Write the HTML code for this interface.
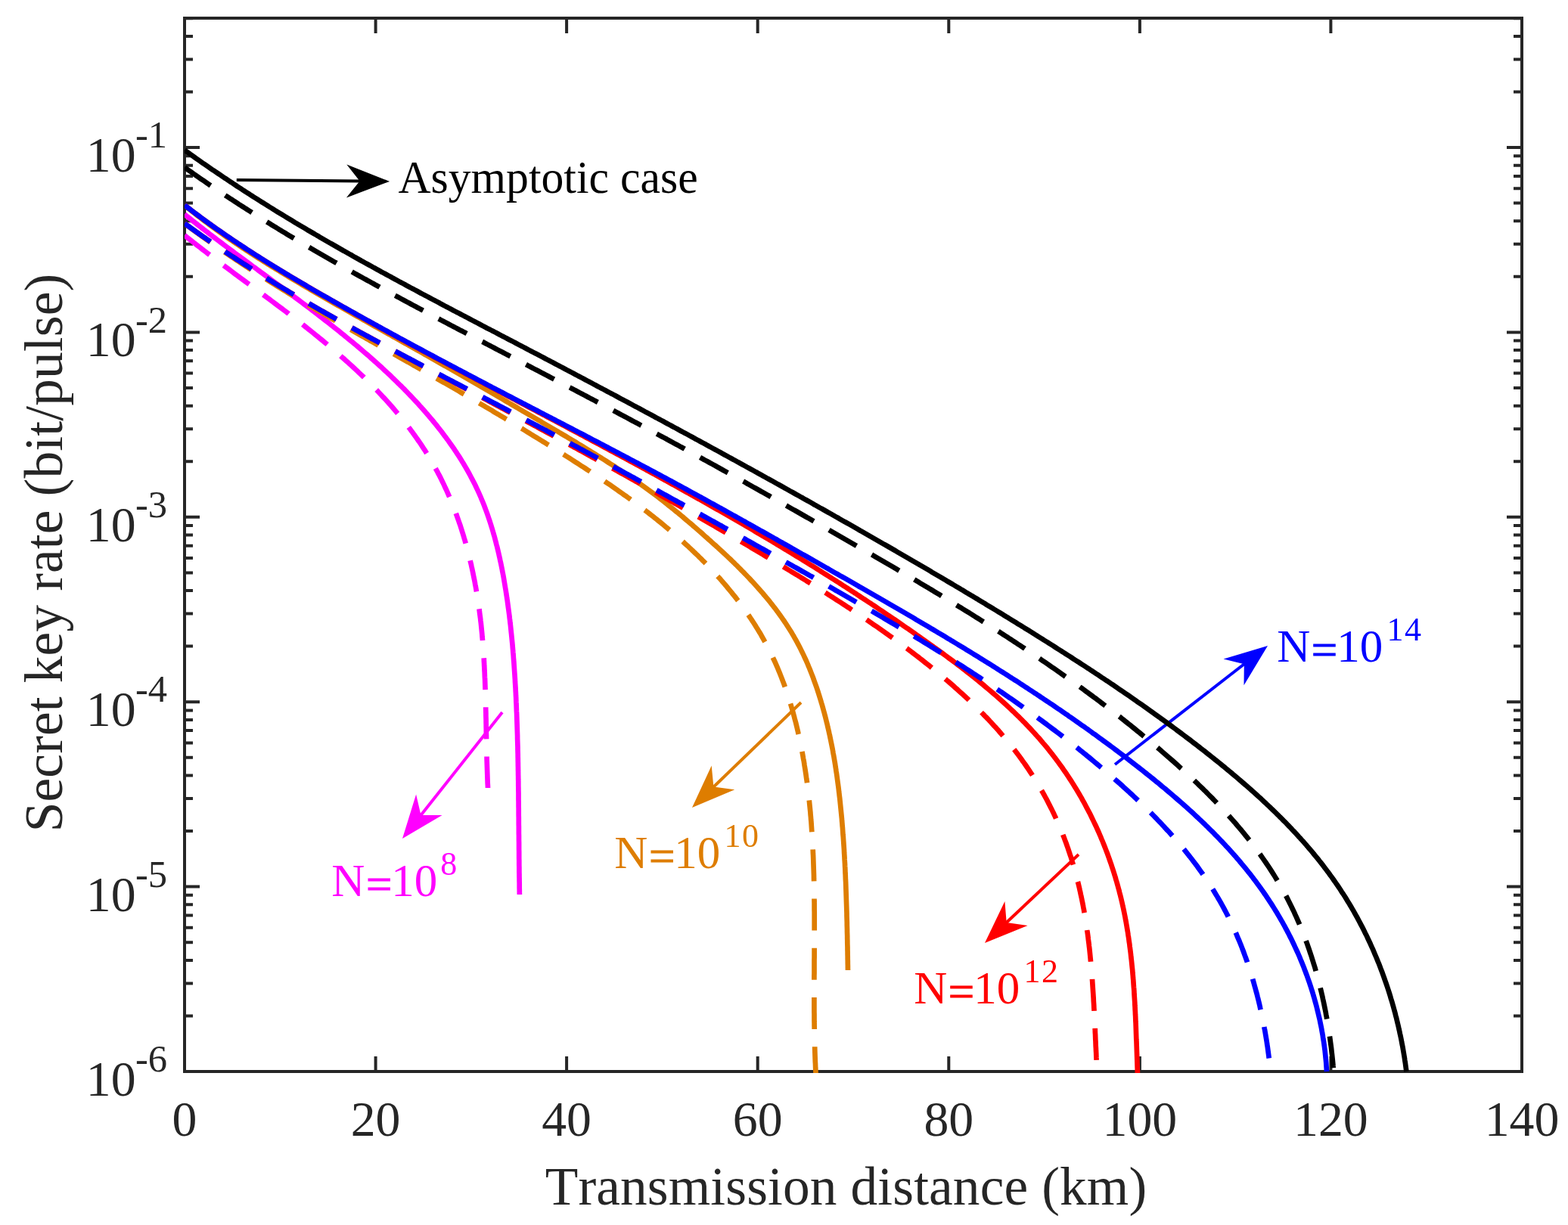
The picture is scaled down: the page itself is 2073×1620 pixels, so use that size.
<!DOCTYPE html>
<html lang="en"><head><meta charset="utf-8"><title>Secret key rate vs transmission distance</title>
<style>html,body{margin:0;padding:0;background:#fff}svg{display:block}text{font-kerning:none;font-variant-ligatures:none}</style></head>
<body>
<svg xmlns="http://www.w3.org/2000/svg" width="2073" height="1620" viewBox="0 0 2073 1620" font-family="'Liberation Serif', 'Times New Roman', Times, serif">
<rect width="2073" height="1620" fill="#fff"/>
<defs><clipPath id="c"><rect x="244" y="24" width="1768" height="1395"/></clipPath></defs>
<path d="M496.6 1417 v-20 M496.6 24 v20 M749.1 1417 v-20 M749.1 24 v20 M1001.7 1417 v-20 M1001.7 24 v20 M1254.3 1417 v-20 M1254.3 24 v20 M1506.9 1417 v-20 M1506.9 24 v20 M1759.4 1417 v-20 M1759.4 24 v20 M244 1343.4 h11 M2012 1343.4 h-11 M244 1300.4 h11 M2012 1300.4 h-11 M244 1269.9 h11 M2012 1269.9 h-11 M244 1246.2 h11 M2012 1246.2 h-11 M244 1226.8 h11 M2012 1226.8 h-11 M244 1210.5 h11 M2012 1210.5 h-11 M244 1196.3 h11 M2012 1196.3 h-11 M244 1183.8 h11 M2012 1183.8 h-11 M244 1172.6 h20 M2012 1172.6 h-20 M244 1099.0 h11 M2012 1099.0 h-11 M244 1056.0 h11 M2012 1056.0 h-11 M244 1025.5 h11 M2012 1025.5 h-11 M244 1001.8 h11 M2012 1001.8 h-11 M244 982.4 h11 M2012 982.4 h-11 M244 966.1 h11 M2012 966.1 h-11 M244 951.9 h11 M2012 951.9 h-11 M244 939.4 h11 M2012 939.4 h-11 M244 928.2 h20 M2012 928.2 h-20 M244 854.6 h11 M2012 854.6 h-11 M244 811.6 h11 M2012 811.6 h-11 M244 781.1 h11 M2012 781.1 h-11 M244 757.4 h11 M2012 757.4 h-11 M244 738.0 h11 M2012 738.0 h-11 M244 721.7 h11 M2012 721.7 h-11 M244 707.5 h11 M2012 707.5 h-11 M244 695.0 h11 M2012 695.0 h-11 M244 683.8 h20 M2012 683.8 h-20 M244 610.2 h11 M2012 610.2 h-11 M244 567.2 h11 M2012 567.2 h-11 M244 536.7 h11 M2012 536.7 h-11 M244 513.0 h11 M2012 513.0 h-11 M244 493.6 h11 M2012 493.6 h-11 M244 477.3 h11 M2012 477.3 h-11 M244 463.1 h11 M2012 463.1 h-11 M244 450.6 h11 M2012 450.6 h-11 M244 439.4 h20 M2012 439.4 h-20 M244 365.8 h11 M2012 365.8 h-11 M244 322.8 h11 M2012 322.8 h-11 M244 292.3 h11 M2012 292.3 h-11 M244 268.6 h11 M2012 268.6 h-11 M244 249.2 h11 M2012 249.2 h-11 M244 232.9 h11 M2012 232.9 h-11 M244 218.7 h11 M2012 218.7 h-11 M244 206.2 h11 M2012 206.2 h-11 M244 195.0 h20 M2012 195.0 h-20 M244 121.4 h11 M2012 121.4 h-11 M244 78.4 h11 M2012 78.4 h-11 M244 47.9 h11 M2012 47.9 h-11 M244 24.2 h11 M2012 24.2 h-11" stroke="#262626" stroke-width="4" fill="none"/>
<rect x="244" y="24" width="1768" height="1393" fill="none" stroke="#262626" stroke-width="4"/>
<line x1="312.8" y1="238.0" x2="477.6" y2="239.5" stroke="#000000" stroke-width="4.0"/><polygon points="515.1,239.9 457.9,261.4 475.6,239.5 458.3,217.4" fill="#000000"/>
<line x1="664.0" y1="942.0" x2="555.3" y2="1079.6" stroke="#ff00ff" stroke-width="4.0"/><polygon points="532.0,1109.0 550.1,1050.6 556.5,1078.0 584.6,1077.9" fill="#ff00ff"/>
<line x1="1059.0" y1="929.0" x2="942.0" y2="1042.0" stroke="#de7d00" stroke-width="4.0"/><polygon points="915.0,1068.0 940.7,1012.6 943.4,1040.6 971.3,1044.2" fill="#de7d00"/>
<line x1="1426.0" y1="1130.0" x2="1329.3" y2="1221.3" stroke="#ff0000" stroke-width="4.0"/><polygon points="1302.0,1247.0 1328.4,1191.9 1330.7,1219.9 1358.6,1223.9" fill="#ff0000"/>
<line x1="1474.0" y1="1011.0" x2="1646.4" y2="877.0" stroke="#0000ff" stroke-width="4.0"/><polygon points="1676.0,854.0 1644.5,906.3 1644.8,878.2 1617.5,871.6" fill="#0000ff"/>
<g clip-path="url(#c)" fill="none" stroke-width="6.7">
<path d="M244.0 283.4L246.3 285.3L248.7 287.2L251.0 289.0L253.4 290.9L255.7 292.8L258.1 294.6L260.5 296.5L262.8 298.3L265.2 300.2L267.5 302.0L269.9 303.8L272.3 305.7L274.7 307.5L277.0 309.3L279.4 311.1L281.8 313.0L284.2 314.8L286.6 316.6L289.0 318.4L291.4 320.2L293.8 322.0L296.1 323.8L298.5 325.6L300.9 327.4L303.3 329.2L305.7 331.0L308.1 332.8L310.5 334.6L313.0 336.4L315.4 338.1L317.8 339.9L320.2 341.7L322.6 343.5L325.0 345.3L327.4 347.0L329.8 348.8L332.2 350.6L334.6 352.4L337.0 354.1L339.5 355.9L341.9 357.7L344.3 359.5L346.7 361.2L349.1 363.0L351.5 364.8L353.9 366.5L356.3 368.3L358.8 370.1L361.2 371.9L363.6 373.6L366.0 375.4L368.4 377.2L370.8 379.0L373.2 380.7L375.6 382.5L378.0 384.3L380.4 386.1L382.8 387.9L385.2 389.7L387.6 391.4L390.0 393.2L392.4 395.0L394.8 396.8L397.2 398.6L399.6 400.4L402.0 402.2L404.4 404.0L406.8 405.8L409.2 407.6L411.5 409.4L413.9 411.2L416.3 413.1L418.7 414.9L421.1 416.7L423.4 418.5L425.8 420.4L428.2 422.2L430.5 424.0L432.9 425.9L435.2 427.7L437.6 429.6L439.9 431.4L442.3 433.3L444.6 435.2L447.0 437.0L449.3 438.9L451.6 440.8L454.0 442.7L456.3 444.6L458.6 446.5L460.9 448.4L463.3 450.3L465.6 452.2L467.9 454.1L470.2 456.0L472.5 457.9L474.8 459.9L477.1 461.8L479.3 463.8L481.6 465.7L483.9 467.7L486.2 469.6L488.4 471.6L490.7 473.6L492.9 475.6L495.2 477.6L497.4 479.6L499.6 481.6L501.9 483.6L504.1 485.6L506.3 487.6L508.5 489.7L510.7 491.7L512.9 493.8L515.1 495.8L517.3 497.9L519.4 500.0L521.6 502.1L523.7 504.2L525.9 506.3L528.0 508.4L530.2 510.5L532.3 512.6L534.4 514.7L536.5 516.9L538.6 519.0L540.7 521.2L542.8 523.4L544.8 525.5L546.9 527.7L548.9 529.9L551.0 532.1L553.0 534.3L555.0 536.6L557.0 538.8L559.0 541.0L561.0 543.3L563.0 545.6L564.9 547.8L566.9 550.1L568.8 552.4L570.8 554.7L572.7 557.0L574.6 559.3L576.5 561.7L578.4 564.0L580.2 566.4L582.1 568.7L583.9 571.1L585.7 573.5L587.5 575.9L589.3 578.3L591.1 580.7L592.9 583.1L594.6 585.6L596.3 588.0L598.1 590.5L599.8 592.9L601.4 595.4L603.1 597.9L604.7 600.4L606.4 602.9L608.0 605.4L609.6 607.9L611.1 610.5L612.7 613.0L614.2 615.6L615.7 618.2L617.2 620.7L618.7 623.3L620.1 625.9L621.5 628.5L622.9 631.2L624.3 633.8L625.7 636.5L627.0 639.1L628.4 641.8L629.6 644.4L630.9 647.1L632.2 649.8L633.4 652.5L634.6 655.3L635.8 658.0L636.9 660.7L638.1 663.5L639.2 666.2L640.3 669.0L641.3 671.8L642.4 674.6L643.4 677.4L644.4 680.2L645.4 683.0L646.3 685.8L647.3 688.7L648.2 691.5L649.1 694.3L650.0 697.2L650.9 700.1L651.7 702.9L652.5 705.8L653.4 708.7L654.2 711.6L654.9 714.5L655.7 717.4L656.4 720.3L657.2 723.2L657.9 726.1L658.6 729.0L659.3 731.9L659.9 734.9L660.6 737.8L661.2 740.7L661.9 743.7L662.5 746.6L663.1 749.6L663.7 752.5L664.2 755.5L664.8 758.4L665.4 761.4L665.9 764.3L666.4 767.3L666.9 770.3L667.4 773.2L667.9 776.2L668.4 779.2L668.9 782.2L669.3 785.1L669.8 788.1L670.2 791.1L670.7 794.0L671.1 797.0L671.5 800.0L671.9 803.0L672.3 805.9L672.7 808.9L673.1 811.9L673.5 814.9L673.8 817.9L674.2 820.8L674.5 823.8L674.9 826.8L675.2 829.8L675.5 832.8L675.8 835.8L676.1 838.7L676.4 841.7L676.7 844.7L677.0 847.7L677.3 850.7L677.6 853.7L677.8 856.7L678.1 859.7L678.3 862.6L678.6 865.6L678.8 868.6L679.0 871.6L679.3 874.6L679.5 877.6L679.7 880.6L679.9 883.6L680.1 886.6L680.3 889.6L680.5 892.5L680.7 895.5L680.9 898.5L681.0 901.5L681.2 904.5L681.4 907.5L681.6 910.5L681.7 913.5L681.9 916.5L682.0 919.5L682.2 922.5L682.3 925.5L682.4 928.4L682.6 931.4L682.7 934.4L682.8 937.4L682.9 940.4L683.1 943.4L683.2 946.4L683.3 949.4L683.4 952.4L683.5 955.4L683.6 958.4L683.7 961.4L683.8 964.4L683.9 967.3L684.0 970.3L684.1 973.3L684.1 976.3L684.2 979.3L684.3 982.3L684.4 985.3L684.5 988.3L684.5 991.3L684.6 994.3L684.7 997.3L684.7 1000.3L684.8 1003.3L684.8 1006.2L684.9 1009.2L684.9 1012.2L685.0 1015.2L685.0 1018.2L685.1 1021.2L685.1 1024.2L685.2 1027.2L685.2 1030.2L685.3 1033.2L685.3 1036.2L685.3 1039.2L685.4 1042.2L685.4 1045.2L685.5 1048.2L685.5 1051.1L685.5 1054.1L685.5 1057.1L685.6 1060.1L685.6 1063.1L685.6 1066.1L685.7 1069.1L685.7 1072.1L685.7 1075.1L685.7 1078.1L685.8 1081.1L685.8 1084.1L685.8 1087.1L685.8 1090.1L685.9 1093.1L685.9 1096.1L685.9 1099.1L685.9 1102.1L686.0 1105.1L686.0 1108.1L686.0 1111.0L686.1 1114.0L686.1 1117.0L686.1 1120.0L686.1 1123.0L686.2 1126.0L686.2 1129.0L686.2 1132.0L686.2 1135.0L686.3 1138.0L686.3 1141.0L686.3 1144.0L686.4 1147.0L686.4 1150.0L686.4 1153.0L686.5 1156.0L686.5 1159.0L686.6 1162.0L686.6 1165.0L686.7 1168.0L686.7 1171.0L686.7 1174.0L686.8 1177.0L686.8 1180.0L686.9 1183.0" stroke="#ff00ff"/>
<path d="M244.0 311.2L246.4 313.1L248.7 315.0L251.1 316.8L253.4 318.7L255.8 320.6L258.2 322.4L260.5 324.3L262.9 326.1L265.3 327.9L267.6 329.8L270.0 331.6L272.4 333.4L274.8 335.3L277.2 337.1L279.5 338.9L281.9 340.7L284.3 342.5L286.7 344.3L289.1 346.1L291.5 347.9L293.9 349.7L296.3 351.5L298.7 353.3L301.1 355.0L303.5 356.8L305.9 358.6L308.2 360.4L310.6 362.2L313.0 363.9L315.4 365.7L317.8 367.5L320.2 369.2L322.6 371.0L325.0 372.8L327.4 374.6L329.8 376.3L332.2 378.1L334.6 379.9L337.0 381.6L339.4 383.4L341.8 385.2L344.2 387.0L346.6 388.7L349.0 390.5L351.4 392.3L353.8 394.1L356.2 395.8L358.6 397.6L361.0 399.4L363.4 401.2L365.8 403.0L368.1 404.8L370.5 406.5L372.9 408.3L375.3 410.1L377.7 411.9L380.1 413.7L382.4 415.6L384.8 417.4L387.2 419.2L389.5 421.0L391.9 422.8L394.3 424.7L396.6 426.5L399.0 428.3L401.4 430.2L403.7 432.0L406.1 433.9L408.4 435.8L410.8 437.6L413.1 439.5L415.4 441.4L417.8 443.3L420.1 445.2L422.4 447.1L424.8 449.0L427.1 450.9L429.4 452.8L431.7 454.7L434.0 456.7L436.3 458.6L438.6 460.6L440.9 462.5L443.2 464.5L445.5 466.4L447.8 468.4L450.1 470.4L452.3 472.4L454.6 474.4L456.8 476.4L459.1 478.4L461.3 480.5L463.6 482.5L465.8 484.5L468.0 486.6L470.2 488.6L472.4 490.7L474.6 492.8L476.8 494.9L479.0 496.9L481.2 499.0L483.3 501.1L485.5 503.3L487.6 505.4L489.7 507.5L491.9 509.6L494.0 511.8L496.1 514.0L498.2 516.1L500.2 518.3L502.3 520.5L504.4 522.7L506.4 524.9L508.5 527.1L510.5 529.3L512.5 531.5L514.5 533.8L516.5 536.0L518.5 538.3L520.4 540.5L522.4 542.8L524.3 545.1L526.2 547.4L528.1 549.7L530.0 552.0L531.9 554.3L533.8 556.7L535.6 559.0L537.5 561.3L539.3 563.7L541.1 566.1L542.9 568.5L544.7 570.9L546.4 573.3L548.2 575.7L549.9 578.1L551.6 580.5L553.3 583.0L555.0 585.4L556.7 587.9L558.3 590.4L559.9 592.8L561.6 595.3L563.1 597.8L564.7 600.4L566.3 602.9L567.8 605.4L569.3 608.0L570.8 610.5L572.3 613.1L573.8 615.7L575.2 618.3L576.6 620.9L578.1 623.5L579.4 626.1L580.8 628.7L582.2 631.4L583.5 634.0L584.8 636.7L586.1 639.4L587.4 642.1L588.6 644.8L589.9 647.5L591.1 650.2L592.3 652.9L593.5 655.6L594.7 658.3L595.8 661.1L597.0 663.8L598.1 666.6L599.2 669.4L600.3 672.1L601.3 674.9L602.4 677.7L603.4 680.5L604.4 683.3L605.4 686.1L606.4 689.0L607.4 691.8L608.4 694.6L609.3 697.5L610.2 700.3L611.1 703.2L612.0 706.0L612.9 708.9L613.7 711.7L614.6 714.6L615.4 717.5L616.2 720.4L617.0 723.3L617.8 726.2L618.6 729.1L619.3 732.0L620.1 734.9L620.8 737.8L621.5 740.7L622.2 743.7L622.9 746.6L623.5 749.5L624.2 752.5L624.8 755.4L625.4 758.3L626.0 761.3L626.6 764.2L627.2 767.2L627.8 770.2L628.3 773.1L628.9 776.1L629.4 779.0L629.9 782.0L630.4 785.0L630.9 788.0L631.4 790.9L631.8 793.9L632.3 796.9L632.7 799.9L633.1 802.8L633.6 805.8L633.9 808.8L634.3 811.8L634.7 814.8L635.1 817.7L635.4 820.7L635.8 823.7L636.1 826.7L636.4 829.7L636.7 832.7L637.0 835.7L637.3 838.6L637.5 841.6L637.8 844.6L638.1 847.6L638.3 850.6L638.5 853.6L638.8 856.6L639.0 859.6L639.2 862.6L639.4 865.5L639.6 868.5L639.8 871.5L639.9 874.5L640.1 877.5L640.2 880.5L640.4 883.5L640.5 886.5L640.7 889.5L640.8 892.5L640.9 895.4L641.1 898.4L641.2 901.4L641.3 904.4L641.4 907.4L641.5 910.4L641.6 913.4L641.7 916.4L641.8 919.4L641.9 922.4L641.9 925.4L642.0 928.4L642.1 931.4L642.2 934.3L642.2 937.3L642.3 940.3L642.4 943.3L642.4 946.3L642.5 949.3L642.6 952.3L642.6 955.3L642.7 958.3L642.7 961.3L642.8 964.3L642.8 967.3L642.9 970.2L643.0 973.2L643.0 976.2L643.1 979.2L643.1 982.2L643.2 985.2L643.3 988.2L643.3 991.2L643.4 994.2L643.5 997.2L643.6 1000.2L643.6 1003.1L643.7 1006.1L643.8 1009.1L643.9 1012.1L644.0 1015.1L644.1 1018.1L644.2 1021.1L644.3 1024.1L644.4 1027.1L644.5 1030.0L644.6 1033.0L644.7 1036.0L644.9 1039.0L645.0 1042.0" stroke="#ff00ff" stroke-dasharray="42 23.22"/>
<path d="M244.0 271.3L246.3 273.2L248.6 275.1L251.0 277.0L253.3 278.9L255.6 280.8L258.0 282.6L260.3 284.5L262.7 286.3L265.1 288.2L267.5 290.0L269.8 291.8L272.2 293.6L274.6 295.4L277.0 297.2L279.4 299.0L281.8 300.8L284.3 302.5L286.7 304.3L289.1 306.0L291.5 307.8L294.0 309.5L296.4 311.2L298.9 313.0L301.3 314.7L303.8 316.4L306.3 318.1L308.7 319.8L311.2 321.4L313.7 323.1L316.2 324.8L318.7 326.4L321.2 328.1L323.7 329.7L326.2 331.4L328.7 333.0L331.2 334.7L333.7 336.3L336.2 337.9L338.7 339.5L341.2 341.1L343.8 342.7L346.3 344.3L348.8 345.9L351.4 347.5L353.9 349.1L356.5 350.7L359.0 352.3L361.6 353.8L364.1 355.4L366.7 357.0L369.2 358.5L371.8 360.1L374.4 361.6L376.9 363.2L379.5 364.7L382.1 366.3L384.6 367.8L387.2 369.3L389.8 370.9L392.4 372.4L394.9 373.9L397.5 375.4L400.1 377.0L402.7 378.5L405.3 380.0L407.8 381.5L410.4 383.0L413.0 384.5L415.6 386.0L418.2 387.5L420.8 389.0L423.4 390.5L426.0 392.0L428.6 393.5L431.2 395.0L433.8 396.5L436.4 398.0L439.0 399.5L441.6 401.0L444.2 402.5L446.8 404.0L449.4 405.4L452.0 406.9L454.6 408.4L457.2 409.9L459.8 411.4L462.4 412.8L465.0 414.3L467.6 415.8L470.2 417.3L472.8 418.7L475.4 420.2L478.0 421.7L480.7 423.2L483.3 424.6L485.9 426.1L488.5 427.6L491.1 429.0L493.7 430.5L496.3 432.0L498.9 433.4L501.5 434.9L504.2 436.4L506.8 437.8L509.4 439.3L512.0 440.8L514.6 442.2L517.2 443.7L519.8 445.2L522.4 446.6L525.1 448.1L527.7 449.6L530.3 451.0L532.9 452.5L535.5 454.0L538.1 455.4L540.7 456.9L543.3 458.4L545.9 459.8L548.6 461.3L551.2 462.8L553.8 464.2L556.4 465.7L559.0 467.2L561.6 468.7L564.2 470.1L566.8 471.6L569.4 473.1L572.0 474.6L574.6 476.1L577.2 477.5L579.8 479.0L582.4 480.5L585.0 482.0L587.6 483.5L590.2 484.9L592.8 486.4L595.4 487.9L598.0 489.4L600.6 490.9L603.2 492.4L605.8 493.9L608.4 495.4L611.0 496.9L613.6 498.4L616.2 499.9L618.8 501.3L621.4 502.8L624.0 504.3L626.6 505.8L629.2 507.3L631.8 508.8L634.4 510.3L636.9 511.8L639.5 513.4L642.1 514.9L644.7 516.4L647.3 517.9L649.9 519.4L652.5 520.9L655.1 522.4L657.6 523.9L660.2 525.4L662.8 526.9L665.4 528.4L668.0 530.0L670.6 531.5L673.1 533.0L675.7 534.5L678.3 536.0L680.9 537.5L683.5 539.0L686.1 540.6L688.7 542.1L691.2 543.6L693.8 545.1L696.4 546.6L699.0 548.1L701.6 549.7L704.2 551.2L706.7 552.7L709.3 554.2L711.9 555.7L714.5 557.2L717.1 558.8L719.7 560.3L722.3 561.8L724.8 563.3L727.4 564.8L730.0 566.4L732.6 567.9L735.2 569.4L737.8 570.9L740.3 572.5L742.9 574.0L745.5 575.5L748.1 577.0L750.7 578.6L753.2 580.1L755.8 581.7L758.4 583.2L761.0 584.7L763.5 586.3L766.1 587.8L768.7 589.4L771.2 590.9L773.8 592.5L776.3 594.1L778.9 595.6L781.4 597.2L784.0 598.8L786.5 600.4L789.1 602.0L791.6 603.5L794.2 605.1L796.7 606.7L799.2 608.3L801.7 609.9L804.3 611.6L806.8 613.2L809.3 614.8L811.8 616.4L814.3 618.1L816.8 619.7L819.3 621.4L821.8 623.0L824.3 624.7L826.8 626.4L829.2 628.0L831.7 629.7L834.2 631.4L836.6 633.1L839.1 634.8L841.5 636.5L844.0 638.2L846.4 640.0L848.8 641.7L851.3 643.5L853.7 645.2L856.1 647.0L858.5 648.7L860.9 650.5L863.3 652.3L865.7 654.1L868.1 655.9L870.4 657.7L872.8 659.6L875.2 661.4L877.5 663.2L879.9 665.1L882.2 666.9L884.5 668.8L886.9 670.7L889.2 672.5L891.5 674.4L893.8 676.3L896.2 678.2L898.5 680.1L900.8 682.0L903.1 683.9L905.3 685.9L907.6 687.8L909.9 689.7L912.2 691.7L914.5 693.6L916.7 695.6L919.0 697.5L921.3 699.5L923.5 701.5L925.8 703.4L928.1 705.4L930.3 707.4L932.5 709.4L934.8 711.4L937.0 713.4L939.3 715.4L941.5 717.4L943.7 719.4L946.0 721.4L948.2 723.4L950.4 725.5L952.6 727.5L954.8 729.5L957.0 731.6L959.2 733.6L961.4 735.7L963.6 737.8L965.8 739.8L967.9 741.9L970.1 744.0L972.2 746.1L974.4 748.2L976.5 750.3L978.6 752.4L980.7 754.6L982.8 756.7L984.9 758.9L987.0 761.0L989.1 763.2L991.2 765.4L993.2 767.6L995.3 769.8L997.3 772.0L999.3 774.2L1001.3 776.4L1003.3 778.7L1005.3 780.9L1007.3 783.2L1009.2 785.5L1011.1 787.8L1013.1 790.1L1015.0 792.4L1016.9 794.7L1018.7 797.0L1020.6 799.4L1022.4 801.7L1024.3 804.1L1026.1 806.5L1027.9 808.9L1029.6 811.3L1031.4 813.7L1033.1 816.1L1034.8 818.6L1036.5 821.0L1038.2 823.5L1039.8 826.0L1041.4 828.5L1043.0 831.0L1044.6 833.5L1046.2 836.1L1047.7 838.6L1049.2 841.2L1050.7 843.8L1052.2 846.4L1053.6 849.0L1055.0 851.6L1056.4 854.3L1057.8 856.9L1059.1 859.6L1060.4 862.2L1061.7 864.9L1063.0 867.6L1064.2 870.3L1065.5 873.0L1066.7 875.8L1067.9 878.5L1069.0 881.3L1070.2 884.0L1071.3 886.8L1072.4 889.6L1073.5 892.4L1074.6 895.2L1075.6 898.0L1076.6 900.8L1077.6 903.6L1078.6 906.4L1079.6 909.2L1080.6 912.1L1081.5 914.9L1082.4 917.8L1083.3 920.6L1084.2 923.5L1085.1 926.4L1085.9 929.2L1086.8 932.1L1087.6 935.0L1088.4 937.9L1089.2 940.8L1090.0 943.6L1090.7 946.5L1091.5 949.4L1092.2 952.3L1092.9 955.2L1093.7 958.2L1094.3 961.1L1095.0 964.0L1095.7 966.9L1096.3 969.8L1097.0 972.8L1097.6 975.7L1098.2 978.6L1098.8 981.6L1099.4 984.5L1100.0 987.5L1100.6 990.4L1101.1 993.3L1101.6 996.3L1102.2 999.3L1102.7 1002.2L1103.2 1005.2L1103.7 1008.1L1104.2 1011.1L1104.6 1014.1L1105.1 1017.0L1105.5 1020.0L1106.0 1023.0L1106.4 1025.9L1106.8 1028.9L1107.2 1031.9L1107.6 1034.9L1108.0 1037.8L1108.4 1040.8L1108.8 1043.8L1109.1 1046.8L1109.5 1049.8L1109.8 1052.8L1110.2 1055.7L1110.5 1058.7L1110.8 1061.7L1111.1 1064.7L1111.4 1067.7L1111.7 1070.7L1112.0 1073.7L1112.3 1076.7L1112.6 1079.7L1112.9 1082.6L1113.1 1085.6L1113.4 1088.6L1113.6 1091.6L1113.9 1094.6L1114.1 1097.6L1114.3 1100.6L1114.5 1103.6L1114.8 1106.6L1115.0 1109.5L1115.2 1112.5L1115.4 1115.5L1115.6 1118.5L1115.8 1121.5L1116.0 1124.5L1116.1 1127.5L1116.3 1130.5L1116.5 1133.4L1116.6 1136.4L1116.8 1139.4L1117.0 1142.4L1117.1 1145.4L1117.3 1148.4L1117.4 1151.3L1117.5 1154.3L1117.7 1157.3L1117.8 1160.3L1117.9 1163.3L1118.1 1166.3L1118.2 1169.2L1118.3 1172.2L1118.4 1175.2L1118.5 1178.2L1118.6 1181.2L1118.7 1184.2L1118.8 1187.2L1118.9 1190.1L1119.0 1193.1L1119.1 1196.1L1119.2 1199.1L1119.3 1202.1L1119.4 1205.1L1119.5 1208.1L1119.5 1211.0L1119.6 1214.0L1119.7 1217.0L1119.8 1220.0L1119.8 1223.0L1119.9 1226.0L1120.0 1229.0L1120.0 1232.0L1120.1 1235.0L1120.2 1238.0L1120.2 1241.0L1120.3 1244.0L1120.3 1247.0L1120.4 1250.0L1120.5 1253.0L1120.5 1256.0L1120.6 1259.0L1120.6 1262.0L1120.7 1265.0L1120.7 1268.0L1120.8 1271.0L1120.8 1274.0L1120.9 1277.0L1120.9 1280.0L1121.0 1283.0" stroke="#de7d00"/>
<path d="M244.0 295.5L246.4 297.3L248.8 299.1L251.2 300.9L253.6 302.7L256.0 304.5L258.4 306.2L260.9 308.0L263.3 309.8L265.7 311.5L268.1 313.3L270.6 315.0L273.0 316.8L275.5 318.5L277.9 320.3L280.4 322.0L282.8 323.7L285.3 325.4L287.7 327.1L290.2 328.8L292.7 330.5L295.1 332.2L297.6 333.9L300.1 335.6L302.6 337.3L305.0 338.9L307.5 340.6L310.0 342.3L312.5 343.9L315.0 345.6L317.5 347.3L320.0 348.9L322.5 350.5L325.0 352.2L327.5 353.8L330.0 355.5L332.6 357.1L335.1 358.7L337.6 360.3L340.1 361.9L342.6 363.5L345.2 365.1L347.7 366.8L350.2 368.3L352.8 369.9L355.3 371.5L357.9 373.1L360.4 374.7L362.9 376.3L365.5 377.9L368.0 379.4L370.6 381.0L373.2 382.6L375.7 384.1L378.3 385.7L380.8 387.3L383.4 388.8L386.0 390.4L388.5 391.9L391.1 393.5L393.7 395.0L396.2 396.5L398.8 398.1L401.4 399.6L404.0 401.2L406.5 402.7L409.1 404.2L411.7 405.7L414.3 407.3L416.9 408.8L419.5 410.3L422.0 411.8L424.6 413.3L427.2 414.8L429.8 416.4L432.4 417.9L435.0 419.4L437.6 420.9L440.2 422.4L442.8 423.9L445.4 425.4L448.0 426.9L450.6 428.4L453.2 429.9L455.8 431.4L458.4 432.9L461.0 434.3L463.6 435.8L466.2 437.3L468.8 438.8L471.4 440.3L474.0 441.8L476.6 443.3L479.2 444.7L481.8 446.2L484.5 447.7L487.1 449.2L489.7 450.7L492.3 452.1L494.9 453.6L497.5 455.1L500.1 456.6L502.7 458.1L505.3 459.5L507.9 461.0L510.6 462.5L513.2 464.0L515.8 465.4L518.4 466.9L521.0 468.4L523.6 469.9L526.2 471.3L528.8 472.8L531.4 474.3L534.1 475.8L536.7 477.3L539.3 478.7L541.9 480.2L544.5 481.7L547.1 483.2L549.7 484.6L552.3 486.1L554.9 487.6L557.5 489.1L560.1 490.6L562.7 492.1L565.3 493.5L567.9 495.0L570.5 496.5L573.1 498.0L575.7 499.5L578.3 501.0L580.9 502.5L583.5 504.0L586.1 505.5L588.7 506.9L591.3 508.4L593.9 509.9L596.5 511.4L599.1 512.9L601.7 514.4L604.3 515.9L606.9 517.4L609.5 519.0L612.1 520.5L614.6 522.0L617.2 523.5L619.8 525.0L622.4 526.5L625.0 528.0L627.6 529.5L630.1 531.0L632.7 532.6L635.3 534.1L637.9 535.6L640.5 537.1L643.0 538.7L645.6 540.2L648.2 541.7L650.8 543.2L653.3 544.8L655.9 546.3L658.5 547.8L661.0 549.4L663.6 550.9L666.2 552.4L668.7 554.0L671.3 555.5L673.9 557.1L676.4 558.6L679.0 560.2L681.6 561.7L684.1 563.3L686.7 564.8L689.2 566.4L691.8 567.9L694.4 569.5L696.9 571.1L699.5 572.6L702.0 574.2L704.6 575.8L707.1 577.3L709.7 578.9L712.2 580.5L714.8 582.0L717.3 583.6L719.9 585.2L722.4 586.8L725.0 588.4L727.5 589.9L730.0 591.5L732.6 593.1L735.1 594.7L737.7 596.3L740.2 597.9L742.7 599.5L745.3 601.1L747.8 602.7L750.3 604.3L752.9 605.9L755.4 607.5L757.9 609.2L760.5 610.8L763.0 612.4L765.5 614.0L768.0 615.7L770.5 617.3L773.1 618.9L775.6 620.6L778.1 622.2L780.6 623.9L783.1 625.5L785.6 627.2L788.1 628.8L790.6 630.5L793.1 632.2L795.6 633.8L798.1 635.5L800.5 637.2L803.0 638.9L805.5 640.6L808.0 642.3L810.4 644.0L812.9 645.7L815.4 647.4L817.8 649.2L820.3 650.9L822.7 652.6L825.1 654.4L827.6 656.1L830.0 657.9L832.4 659.6L834.9 661.4L837.3 663.2L839.7 665.0L842.1 666.8L844.5 668.6L846.9 670.4L849.3 672.2L851.7 674.0L854.1 675.8L856.5 677.7L858.8 679.5L861.2 681.3L863.6 683.2L865.9 685.1L868.3 686.9L870.6 688.8L872.9 690.7L875.3 692.6L877.6 694.5L879.9 696.5L882.2 698.4L884.5 700.3L886.8 702.3L889.1 704.2L891.4 706.2L893.7 708.2L895.9 710.1L898.2 712.1L900.4 714.1L902.7 716.1L904.9 718.2L907.1 720.2L909.4 722.2L911.6 724.3L913.8 726.4L916.0 728.4L918.1 730.5L920.3 732.6L922.5 734.7L924.6 736.8L926.8 738.9L928.9 741.1L931.0 743.2L933.1 745.3L935.2 747.5L937.3 749.7L939.4 751.9L941.5 754.0L943.5 756.2L945.5 758.5L947.6 760.7L949.6 762.9L951.6 765.1L953.6 767.4L955.6 769.7L957.5 771.9L959.5 774.2L961.4 776.5L963.3 778.8L965.2 781.1L967.1 783.4L969.0 785.8L970.9 788.1L972.7 790.4L974.5 792.8L976.4 795.2L978.2 797.6L979.9 800.0L981.7 802.4L983.5 804.8L985.2 807.2L986.9 809.6L988.6 812.1L990.3 814.5L992.0 817.0L993.6 819.5L995.3 822.0L996.9 824.5L998.5 827.0L1000.0 829.5L1001.6 832.0L1003.1 834.6L1004.7 837.1L1006.2 839.7L1007.6 842.3L1009.1 844.8L1010.5 847.4L1012.0 850.0L1013.4 852.7L1014.8 855.3L1016.1 857.9L1017.5 860.6L1018.8 863.2L1020.1 865.9L1021.4 868.6L1022.6 871.3L1023.9 874.0L1025.1 876.7L1026.3 879.4L1027.5 882.1L1028.6 884.8L1029.8 887.6L1030.9 890.3L1032.0 893.1L1033.1 895.9L1034.2 898.7L1035.2 901.4L1036.3 904.2L1037.3 907.0L1038.3 909.8L1039.3 912.7L1040.2 915.5L1041.2 918.3L1042.1 921.2L1043.0 924.0L1043.9 926.9L1044.8 929.7L1045.7 932.6L1046.5 935.4L1047.4 938.3L1048.2 941.2L1049.0 944.1L1049.8 947.0L1050.5 949.9L1051.3 952.8L1052.1 955.7L1052.8 958.6L1053.5 961.5L1054.2 964.5L1054.9 967.4L1055.5 970.3L1056.2 973.3L1056.8 976.2L1057.5 979.1L1058.1 982.1L1058.7 985.0L1059.3 988.0L1059.9 990.9L1060.4 993.9L1061.0 996.9L1061.5 999.8L1062.0 1002.8L1062.6 1005.8L1063.1 1008.7L1063.5 1011.7L1064.0 1014.7L1064.5 1017.7L1064.9 1020.6L1065.4 1023.6L1065.8 1026.6L1066.2 1029.6L1066.7 1032.6L1067.1 1035.6L1067.4 1038.5L1067.8 1041.5L1068.2 1044.5L1068.6 1047.5L1068.9 1050.5L1069.2 1053.5L1069.6 1056.5L1069.9 1059.4L1070.2 1062.4L1070.5 1065.4L1070.8 1068.4L1071.1 1071.4L1071.4 1074.4L1071.6 1077.4L1071.9 1080.4L1072.1 1083.4L1072.4 1086.3L1072.6 1089.3L1072.8 1092.3L1073.0 1095.3L1073.2 1098.3L1073.4 1101.3L1073.6 1104.3L1073.8 1107.3L1074.0 1110.3L1074.2 1113.3L1074.3 1116.3L1074.5 1119.3L1074.6 1122.3L1074.8 1125.3L1074.9 1128.3L1075.1 1131.3L1075.2 1134.2L1075.3 1137.2L1075.4 1140.2L1075.5 1143.2L1075.6 1146.2L1075.7 1149.2L1075.8 1152.2L1075.9 1155.2L1076.0 1158.2L1076.0 1161.2L1076.1 1164.2L1076.2 1167.2L1076.2 1170.2L1076.3 1173.2L1076.3 1176.2L1076.4 1179.2L1076.4 1182.2L1076.5 1185.2L1076.5 1188.2L1076.5 1191.2L1076.6 1194.2L1076.6 1197.2L1076.6 1200.2L1076.6 1203.2L1076.7 1206.2L1076.7 1209.2L1076.7 1212.2L1076.7 1215.2L1076.7 1218.2L1076.7 1221.2L1076.7 1224.2L1076.7 1227.2L1076.7 1230.2L1076.7 1233.2L1076.7 1236.2L1076.7 1239.2L1076.7 1242.2L1076.7 1245.2L1076.6 1248.2L1076.6 1251.2L1076.6 1254.2L1076.6 1257.2L1076.6 1260.2L1076.6 1263.2L1076.6 1266.2L1076.5 1269.2L1076.5 1272.2L1076.5 1275.2L1076.5 1278.2L1076.5 1281.2L1076.5 1284.2L1076.5 1287.2L1076.4 1290.2L1076.4 1293.2L1076.4 1296.2L1076.4 1299.2L1076.4 1302.2L1076.4 1305.2L1076.4 1308.2L1076.4 1311.2L1076.4 1314.2L1076.4 1317.2L1076.4 1320.2L1076.4 1323.2L1076.4 1326.2L1076.4 1329.2L1076.4 1332.2L1076.4 1335.2L1076.4 1338.2L1076.5 1341.2L1076.5 1344.2L1076.5 1347.2L1076.5 1350.2L1076.6 1353.2L1076.6 1356.2L1076.7 1359.2L1076.7 1362.2L1076.8 1365.2L1076.8 1368.2L1076.9 1371.1L1076.9 1374.1L1077.0 1377.1L1077.1 1380.1L1077.2 1383.1L1077.2 1386.1L1077.3 1389.1L1077.4 1392.1L1077.5 1395.1L1077.6 1398.1L1077.7 1401.1L1077.8 1404.1L1078.0 1407.0L1078.1 1410.0L1078.2 1413.0L1078.4 1416.0L1078.5 1419.0" stroke="#de7d00" stroke-dasharray="42 23.22"/>
<path d="M244.0 271.3L246.4 273.2L248.8 275.0L251.3 276.9L253.7 278.8L256.1 280.6L258.6 282.4L261.0 284.3L263.4 286.1L265.9 287.9L268.3 289.7L270.8 291.5L273.2 293.3L275.7 295.0L278.2 296.8L280.6 298.6L283.1 300.3L285.6 302.1L288.0 303.8L290.5 305.5L293.0 307.3L295.5 309.0L297.9 310.7L300.4 312.4L302.9 314.1L305.4 315.8L307.9 317.5L310.4 319.1L312.9 320.8L315.4 322.5L317.9 324.1L320.4 325.8L322.9 327.4L325.4 329.1L327.9 330.7L330.4 332.3L332.9 333.9L335.4 335.5L338.0 337.2L340.5 338.8L343.0 340.4L345.5 342.0L348.1 343.6L350.6 345.1L353.1 346.7L355.6 348.3L358.2 349.9L360.7 351.4L363.3 353.0L365.8 354.6L368.3 356.1L370.9 357.7L373.4 359.2L376.0 360.7L378.5 362.3L381.1 363.8L383.6 365.3L386.2 366.9L388.8 368.4L391.3 369.9L393.9 371.4L396.4 372.9L399.0 374.5L401.6 376.0L404.2 377.5L406.7 379.0L409.3 380.5L411.9 382.0L414.4 383.5L417.0 384.9L419.6 386.4L422.2 387.9L424.8 389.4L427.4 390.9L429.9 392.4L432.5 393.8L435.1 395.3L437.7 396.8L440.3 398.3L442.9 399.7L445.5 401.2L448.1 402.7L450.7 404.1L453.3 405.6L455.9 407.1L458.5 408.6L461.1 410.1L463.7 411.6L466.3 413.0L468.9 414.5L471.5 416.0L474.1 417.5L476.7 418.9L479.4 420.4L482.0 421.9L484.6 423.3L487.2 424.8L489.8 426.2L492.4 427.7L495.1 429.2L497.7 430.6L500.3 432.1L502.9 433.5L505.5 435.0L508.2 436.4L510.8 437.9L513.4 439.3L516.1 440.8L518.7 442.2L521.3 443.6L523.9 445.1L526.6 446.5L529.2 447.9L531.8 449.4L534.5 450.8L537.1 452.2L539.7 453.7L542.4 455.1L545.0 456.5L547.7 458.0L550.3 459.4L552.9 460.8L555.6 462.2L558.2 463.7L560.9 465.1L563.5 466.5L566.1 467.9L568.8 469.3L571.4 470.7L574.1 472.2L576.7 473.6L579.4 475.0L582.0 476.4L584.7 477.8L587.3 479.2L590.0 480.6L592.6 482.0L595.3 483.5L597.9 484.9L600.6 486.3L603.2 487.7L605.9 489.1L608.5 490.5L611.2 491.9L613.8 493.3L616.5 494.7L619.1 496.1L621.8 497.5L624.4 498.9L627.1 500.3L629.7 501.7L632.4 503.1L635.0 504.5L637.7 505.9L640.3 507.3L643.0 508.7L645.7 510.1L648.3 511.5L651.0 512.9L653.6 514.3L656.3 515.7L658.9 517.2L661.6 518.6L664.2 520.0L666.9 521.4L669.5 522.8L672.2 524.2L674.9 525.6L677.5 527.0L680.2 528.4L682.8 529.8L685.5 531.2L688.1 532.6L690.8 534.0L693.4 535.4L696.1 536.8L698.8 538.2L701.4 539.6L704.1 541.0L706.7 542.4L709.4 543.8L712.0 545.2L714.7 546.6L717.3 548.0L720.0 549.4L722.6 550.8L725.3 552.2L727.9 553.6L730.6 555.0L733.2 556.4L735.9 557.8L738.6 559.2L741.2 560.6L743.9 562.0L746.5 563.4L749.2 564.9L751.8 566.3L754.5 567.7L757.1 569.1L759.8 570.5L762.4 571.9L765.1 573.3L767.7 574.7L770.4 576.1L773.0 577.5L775.7 579.0L778.3 580.4L781.0 581.8L783.6 583.2L786.2 584.6L788.9 586.0L791.5 587.4L794.2 588.9L796.8 590.3L799.5 591.7L802.1 593.1L804.8 594.5L807.4 596.0L810.0 597.4L812.7 598.8L815.3 600.2L818.0 601.6L820.6 603.1L823.3 604.5L825.9 605.9L828.5 607.4L831.2 608.8L833.8 610.2L836.4 611.6L839.1 613.1L841.7 614.5L844.3 615.9L847.0 617.4L849.6 618.8L852.3 620.2L854.9 621.7L857.5 623.1L860.1 624.6L862.8 626.0L865.4 627.4L868.0 628.9L870.7 630.3L873.3 631.8L875.9 633.2L878.5 634.7L881.2 636.1L883.8 637.6L886.4 639.0L889.0 640.5L891.7 641.9L894.3 643.4L896.9 644.8L899.5 646.3L902.1 647.7L904.8 649.2L907.4 650.7L910.0 652.1L912.6 653.6L915.2 655.1L917.8 656.5L920.5 658.0L923.1 659.5L925.7 660.9L928.3 662.4L930.9 663.9L933.5 665.4L936.1 666.8L938.7 668.3L941.3 669.8L943.9 671.3L946.5 672.8L949.1 674.2L951.7 675.7L954.3 677.2L956.9 678.7L959.5 680.2L962.1 681.7L964.7 683.2L967.3 684.7L969.9 686.2L972.5 687.7L975.1 689.2L977.7 690.7L980.3 692.2L982.9 693.7L985.4 695.2L988.0 696.7L990.6 698.2L993.2 699.7L995.8 701.2L998.4 702.8L1000.9 704.3L1003.5 705.8L1006.1 707.3L1008.7 708.9L1011.2 710.4L1013.8 711.9L1016.4 713.4L1019.0 715.0L1021.5 716.5L1024.1 718.0L1026.7 719.6L1029.2 721.1L1031.8 722.7L1034.3 724.2L1036.9 725.8L1039.5 727.3L1042.0 728.9L1044.6 730.4L1047.1 732.0L1049.7 733.5L1052.2 735.1L1054.8 736.7L1057.4 738.2L1059.9 739.8L1062.4 741.4L1065.0 742.9L1067.5 744.5L1070.1 746.1L1072.6 747.7L1075.2 749.2L1077.7 750.8L1080.2 752.4L1082.8 754.0L1085.3 755.6L1087.8 757.2L1090.4 758.8L1092.9 760.4L1095.4 762.0L1098.0 763.6L1100.5 765.2L1103.0 766.8L1105.5 768.4L1108.1 770.0L1110.6 771.6L1113.1 773.2L1115.6 774.9L1118.2 776.5L1120.7 778.1L1123.2 779.7L1125.7 781.4L1128.2 783.0L1130.7 784.6L1133.2 786.3L1135.7 787.9L1138.2 789.6L1140.7 791.2L1143.3 792.9L1145.8 794.5L1148.3 796.2L1150.8 797.8L1153.3 799.5L1155.8 801.1L1158.2 802.8L1160.7 804.5L1163.2 806.2L1165.7 807.8L1168.2 809.5L1170.7 811.2L1173.2 812.9L1175.7 814.6L1178.2 816.2L1180.7 817.9L1183.1 819.6L1185.6 821.3L1188.1 823.0L1190.6 824.7L1193.0 826.4L1195.5 828.2L1198.0 829.9L1200.5 831.6L1202.9 833.3L1205.4 835.0L1207.9 836.7L1210.3 838.5L1212.8 840.2L1215.3 841.9L1217.7 843.7L1220.2 845.4L1222.7 847.2L1225.1 848.9L1227.6 850.7L1230.0 852.4L1232.5 854.2L1234.9 855.9L1237.4 857.7L1239.8 859.5L1242.3 861.3L1244.7 863.0L1247.1 864.8L1249.6 866.6L1252.0 868.4L1254.4 870.2L1256.9 872.0L1259.3 873.8L1261.7 875.6L1264.1 877.4L1266.5 879.3L1268.9 881.1L1271.3 882.9L1273.7 884.8L1276.1 886.6L1278.5 888.5L1280.8 890.3L1283.2 892.2L1285.6 894.1L1287.9 895.9L1290.3 897.8L1292.6 899.7L1294.9 901.6L1297.3 903.5L1299.6 905.4L1301.9 907.4L1304.2 909.3L1306.5 911.2L1308.8 913.2L1311.1 915.1L1313.4 917.1L1315.6 919.0L1317.9 921.0L1320.1 923.0L1322.4 925.0L1324.6 927.0L1326.8 929.0L1329.0 931.0L1331.2 933.0L1333.4 935.1L1335.6 937.1L1337.8 939.2L1340.0 941.2L1342.1 943.3L1344.2 945.4L1346.4 947.5L1348.5 949.6L1350.6 951.7L1352.7 953.8L1354.8 955.9L1356.9 958.1L1358.9 960.2L1361.0 962.4L1363.0 964.6L1365.0 966.8L1367.1 969.0L1369.1 971.2L1371.0 973.4L1373.0 975.6L1375.0 977.8L1376.9 980.1L1378.8 982.4L1380.8 984.6L1382.7 986.9L1384.6 989.2L1386.4 991.5L1388.3 993.9L1390.1 996.2L1392.0 998.5L1393.8 1000.9L1395.6 1003.3L1397.4 1005.7L1399.2 1008.1L1400.9 1010.5L1402.7 1012.9L1404.4 1015.3L1406.1 1017.8L1407.8 1020.2L1409.5 1022.7L1411.1 1025.2L1412.8 1027.6L1414.4 1030.1L1416.1 1032.7L1417.7 1035.2L1419.3 1037.7L1420.8 1040.2L1422.4 1042.8L1423.9 1045.3L1425.5 1047.9L1427.0 1050.5L1428.5 1053.1L1430.0 1055.7L1431.4 1058.3L1432.9 1060.9L1434.3 1063.5L1435.7 1066.2L1437.1 1068.8L1438.5 1071.5L1439.9 1074.1L1441.3 1076.8L1442.6 1079.5L1443.9 1082.2L1445.2 1084.9L1446.5 1087.6L1447.8 1090.3L1449.1 1093.0L1450.3 1095.7L1451.6 1098.5L1452.8 1101.2L1454.0 1104.0L1455.2 1106.7L1456.3 1109.5L1457.5 1112.3L1458.6 1115.0L1459.7 1117.8L1460.8 1120.6L1461.9 1123.4L1463.0 1126.2L1464.1 1129.0L1465.1 1131.8L1466.1 1134.7L1467.1 1137.5L1468.1 1140.3L1469.1 1143.2L1470.0 1146.0L1471.0 1148.9L1471.9 1151.7L1472.8 1154.6L1473.7 1157.5L1474.6 1160.3L1475.4 1163.2L1476.3 1166.1L1477.1 1169.0L1477.9 1171.9L1478.7 1174.8L1479.5 1177.7L1480.2 1180.6L1481.0 1183.5L1481.7 1186.4L1482.4 1189.3L1483.1 1192.3L1483.8 1195.2L1484.4 1198.1L1485.1 1201.1L1485.7 1204.0L1486.3 1206.9L1486.9 1209.9L1487.5 1212.8L1488.0 1215.8L1488.6 1218.7L1489.1 1221.7L1489.6 1224.6L1490.1 1227.6L1490.6 1230.6L1491.1 1233.5L1491.5 1236.5L1492.0 1239.5L1492.4 1242.4L1492.8 1245.4L1493.3 1248.4L1493.6 1251.4L1494.0 1254.3L1494.4 1257.3L1494.8 1260.3L1495.1 1263.3L1495.4 1266.3L1495.8 1269.3L1496.1 1272.3L1496.4 1275.3L1496.7 1278.3L1497.0 1281.2L1497.3 1284.2L1497.5 1287.2L1497.8 1290.2L1498.0 1293.2L1498.3 1296.2L1498.5 1299.2L1498.7 1302.2L1498.9 1305.2L1499.2 1308.3L1499.4 1311.3L1499.5 1314.3L1499.7 1317.3L1499.9 1320.3L1500.1 1323.3L1500.3 1326.3L1500.4 1329.3L1500.6 1332.3L1500.7 1335.3L1500.9 1338.3L1501.0 1341.3L1501.2 1344.3L1501.3 1347.3L1501.4 1350.3L1501.6 1353.3L1501.7 1356.3L1501.8 1359.3L1501.9 1362.3L1502.0 1365.3L1502.1 1368.3L1502.2 1371.3L1502.3 1374.3L1502.5 1377.3L1502.6 1380.3L1502.7 1383.3L1502.8 1386.3L1502.9 1389.2L1503.0 1392.2L1503.1 1395.2L1503.2 1398.2L1503.3 1401.2L1503.4 1404.1L1503.5 1407.1L1503.6 1410.1L1503.7 1413.1L1503.8 1416.0L1503.9 1419.0" stroke="#ff0000"/>
<path d="M244.0 295.5L246.4 297.3L248.9 299.0L251.3 300.8L253.8 302.6L256.2 304.3L258.7 306.1L261.1 307.8L263.6 309.5L266.1 311.3L268.5 313.0L271.0 314.7L273.5 316.4L275.9 318.1L278.4 319.8L280.9 321.5L283.4 323.2L285.9 324.9L288.4 326.6L290.8 328.3L293.3 330.0L295.8 331.6L298.3 333.3L300.8 335.0L303.3 336.6L305.8 338.3L308.4 339.9L310.9 341.6L313.4 343.2L315.9 344.8L318.4 346.5L320.9 348.1L323.5 349.7L326.0 351.3L328.5 353.0L331.1 354.6L333.6 356.2L336.1 357.8L338.7 359.4L341.2 361.0L343.7 362.5L346.3 364.1L348.8 365.7L351.4 367.3L353.9 368.9L356.5 370.4L359.0 372.0L361.6 373.6L364.2 375.1L366.7 376.7L369.3 378.2L371.9 379.8L374.4 381.3L377.0 382.9L379.6 384.4L382.1 385.9L384.7 387.5L387.3 389.0L389.9 390.5L392.5 392.0L395.0 393.6L397.6 395.1L400.2 396.6L402.8 398.1L405.4 399.6L408.0 401.1L410.6 402.6L413.2 404.1L415.8 405.6L418.4 407.1L421.0 408.6L423.6 410.1L426.2 411.5L428.8 413.0L431.4 414.5L434.0 416.0L436.6 417.4L439.2 418.9L441.8 420.4L444.4 421.8L447.0 423.3L449.6 424.8L452.3 426.2L454.9 427.7L457.5 429.1L460.1 430.6L462.7 432.0L465.4 433.5L468.0 434.9L470.6 436.4L473.2 437.8L475.8 439.2L478.5 440.7L481.1 442.1L483.7 443.5L486.4 445.0L489.0 446.4L491.6 447.8L494.3 449.2L496.9 450.7L499.5 452.1L502.2 453.5L504.8 454.9L507.4 456.3L510.1 457.8L512.7 459.2L515.4 460.6L518.0 462.0L520.6 463.5L523.3 464.9L525.9 466.3L528.6 467.7L531.2 469.2L533.8 470.6L536.5 472.0L539.1 473.4L541.8 474.8L544.4 476.2L547.1 477.6L549.7 479.1L552.4 480.5L555.0 481.9L557.7 483.3L560.3 484.7L563.0 486.1L565.6 487.5L568.3 488.9L570.9 490.3L573.6 491.7L576.2 493.2L578.9 494.6L581.5 496.0L584.2 497.4L586.8 498.8L589.5 500.2L592.1 501.6L594.8 503.0L597.4 504.4L600.1 505.8L602.7 507.2L605.4 508.6L608.0 510.1L610.7 511.5L613.3 512.9L616.0 514.3L618.6 515.7L621.3 517.1L623.9 518.5L626.6 519.9L629.2 521.3L631.9 522.7L634.5 524.2L637.2 525.6L639.8 527.0L642.4 528.4L645.1 529.8L647.7 531.2L650.4 532.6L653.0 534.1L655.7 535.5L658.3 536.9L661.0 538.3L663.6 539.7L666.3 541.1L668.9 542.6L671.6 544.0L674.2 545.4L676.8 546.8L679.5 548.2L682.1 549.7L684.8 551.1L687.4 552.5L690.1 553.9L692.7 555.4L695.3 556.8L698.0 558.2L700.6 559.6L703.3 561.1L705.9 562.5L708.6 563.9L711.2 565.3L713.8 566.8L716.5 568.2L719.1 569.6L721.7 571.1L724.4 572.5L727.0 573.9L729.7 575.4L732.3 576.8L734.9 578.2L737.6 579.7L740.2 581.1L742.8 582.5L745.5 584.0L748.1 585.4L750.7 586.8L753.4 588.3L756.0 589.7L758.6 591.2L761.3 592.6L763.9 594.0L766.5 595.5L769.2 596.9L771.8 598.4L774.4 599.8L777.1 601.3L779.7 602.7L782.3 604.2L784.9 605.6L787.6 607.1L790.2 608.5L792.8 609.9L795.5 611.4L798.1 612.9L800.7 614.3L803.3 615.8L806.0 617.2L808.6 618.7L811.2 620.1L813.8 621.6L816.5 623.0L819.1 624.5L821.7 626.0L824.3 627.4L826.9 628.9L829.6 630.3L832.2 631.8L834.8 633.3L837.4 634.7L840.0 636.2L842.6 637.6L845.3 639.1L847.9 640.6L850.5 642.1L853.1 643.5L855.7 645.0L858.3 646.5L861.0 647.9L863.6 649.4L866.2 650.9L868.8 652.4L871.4 653.8L874.0 655.3L876.6 656.8L879.2 658.3L881.8 659.7L884.4 661.2L887.1 662.7L889.7 664.2L892.3 665.7L894.9 667.1L897.5 668.6L900.1 670.1L902.7 671.6L905.3 673.1L907.9 674.6L910.5 676.1L913.1 677.6L915.7 679.0L918.3 680.5L920.9 682.0L923.5 683.5L926.1 685.0L928.7 686.5L931.3 688.0L933.9 689.5L936.5 691.0L939.1 692.5L941.7 694.0L944.2 695.5L946.8 697.0L949.4 698.5L952.0 700.0L954.6 701.5L957.2 703.0L959.8 704.6L962.4 706.1L965.0 707.6L967.5 709.1L970.1 710.6L972.7 712.1L975.3 713.6L977.9 715.1L980.5 716.7L983.0 718.2L985.6 719.7L988.2 721.2L990.8 722.7L993.4 724.3L995.9 725.8L998.5 727.3L1001.1 728.8L1003.7 730.4L1006.2 731.9L1008.8 733.4L1011.4 735.0L1014.0 736.5L1016.5 738.0L1019.1 739.6L1021.7 741.1L1024.2 742.6L1026.8 744.2L1029.4 745.7L1031.9 747.3L1034.5 748.8L1037.1 750.4L1039.6 751.9L1042.2 753.5L1044.7 755.0L1047.3 756.6L1049.9 758.1L1052.4 759.7L1055.0 761.2L1057.5 762.8L1060.1 764.4L1062.6 765.9L1065.2 767.5L1067.7 769.1L1070.3 770.7L1072.8 772.2L1075.3 773.8L1077.9 775.4L1080.4 777.0L1083.0 778.6L1085.5 780.2L1088.0 781.8L1090.6 783.4L1093.1 785.0L1095.6 786.6L1098.1 788.2L1100.7 789.8L1103.2 791.5L1105.7 793.1L1108.2 794.7L1110.7 796.3L1113.3 798.0L1115.8 799.6L1118.3 801.2L1120.8 802.9L1123.3 804.5L1125.8 806.2L1128.3 807.8L1130.8 809.5L1133.3 811.2L1135.8 812.8L1138.3 814.5L1140.8 816.2L1143.2 817.9L1145.7 819.6L1148.2 821.3L1150.7 823.0L1153.2 824.7L1155.6 826.4L1158.1 828.1L1160.6 829.8L1163.0 831.5L1165.5 833.3L1168.0 835.0L1170.4 836.7L1172.9 838.5L1175.3 840.2L1177.8 842.0L1180.2 843.7L1182.6 845.5L1185.1 847.3L1187.5 849.1L1190.0 850.8L1192.4 852.6L1194.8 854.4L1197.2 856.2L1199.7 858.0L1202.1 859.8L1204.5 861.7L1206.9 863.5L1209.3 865.3L1211.7 867.2L1214.1 869.0L1216.5 870.9L1218.9 872.7L1221.2 874.6L1223.6 876.5L1226.0 878.3L1228.3 880.2L1230.7 882.1L1233.1 884.0L1235.4 885.9L1237.7 887.8L1240.1 889.7L1242.4 891.7L1244.7 893.6L1247.0 895.6L1249.3 897.5L1251.6 899.5L1253.9 901.4L1256.2 903.4L1258.5 905.4L1260.8 907.4L1263.0 909.4L1265.3 911.4L1267.5 913.4L1269.7 915.4L1272.0 917.4L1274.2 919.5L1276.4 921.5L1278.6 923.6L1280.8 925.6L1283.0 927.7L1285.1 929.8L1287.3 931.9L1289.4 934.0L1291.6 936.1L1293.7 938.2L1295.8 940.3L1297.9 942.5L1300.0 944.6L1302.1 946.8L1304.2 948.9L1306.3 951.1L1308.3 953.3L1310.4 955.5L1312.4 957.7L1314.4 959.9L1316.4 962.1L1318.4 964.3L1320.4 966.5L1322.3 968.8L1324.3 971.1L1326.2 973.3L1328.2 975.6L1330.1 977.9L1332.0 980.2L1333.9 982.5L1335.7 984.8L1337.6 987.1L1339.4 989.5L1341.3 991.8L1343.1 994.2L1344.9 996.6L1346.7 998.9L1348.4 1001.3L1350.2 1003.7L1351.9 1006.2L1353.7 1008.6L1355.4 1011.0L1357.1 1013.5L1358.7 1015.9L1360.4 1018.4L1362.0 1020.9L1363.7 1023.4L1365.3 1025.9L1366.9 1028.4L1368.5 1030.9L1370.0 1033.4L1371.6 1036.0L1373.1 1038.5L1374.6 1041.1L1376.1 1043.7L1377.6 1046.2L1379.1 1048.8L1380.5 1051.4L1381.9 1054.0L1383.4 1056.7L1384.8 1059.3L1386.1 1061.9L1387.5 1064.6L1388.8 1067.2L1390.2 1069.9L1391.5 1072.6L1392.8 1075.2L1394.0 1077.9L1395.3 1080.6L1396.5 1083.3L1397.8 1086.1L1399.0 1088.8L1400.2 1091.5L1401.3 1094.3L1402.5 1097.0L1403.6 1099.8L1404.7 1102.5L1405.8 1105.3L1406.9 1108.1L1407.9 1110.9L1409.0 1113.7L1410.0 1116.5L1411.0 1119.3L1412.0 1122.1L1412.9 1124.9L1413.9 1127.8L1414.8 1130.6L1415.8 1133.4L1416.7 1136.3L1417.5 1139.2L1418.4 1142.0L1419.3 1144.9L1420.1 1147.8L1420.9 1150.7L1421.7 1153.5L1422.5 1156.4L1423.3 1159.3L1424.0 1162.2L1424.7 1165.2L1425.5 1168.1L1426.2 1171.0L1426.9 1173.9L1427.5 1176.8L1428.2 1179.8L1428.8 1182.7L1429.5 1185.7L1430.1 1188.6L1430.7 1191.6L1431.3 1194.5L1431.9 1197.5L1432.4 1200.4L1433.0 1203.4L1433.5 1206.4L1434.0 1209.3L1434.5 1212.3L1435.0 1215.3L1435.5 1218.3L1435.9 1221.2L1436.4 1224.2L1436.8 1227.2L1437.2 1230.2L1437.7 1233.2L1438.1 1236.2L1438.5 1239.2L1438.8 1242.2L1439.2 1245.2L1439.6 1248.2L1439.9 1251.2L1440.3 1254.2L1440.6 1257.2L1440.9 1260.2L1441.2 1263.2L1441.5 1266.3L1441.8 1269.3L1442.1 1272.3L1442.4 1275.3L1442.6 1278.3L1442.9 1281.3L1443.1 1284.4L1443.4 1287.4L1443.6 1290.4L1443.9 1293.4L1444.1 1296.4L1444.3 1299.4L1444.5 1302.5L1444.7 1305.5L1444.9 1308.5L1445.1 1311.5L1445.3 1314.5L1445.5 1317.5L1445.7 1320.6L1445.8 1323.6L1446.0 1326.6L1446.2 1329.6L1446.3 1332.6L1446.5 1335.6L1446.6 1338.6L1446.8 1341.6L1446.9 1344.7L1447.1 1347.7L1447.2 1350.7L1447.4 1353.7L1447.5 1356.7L1447.7 1359.7L1447.8 1362.6L1447.9 1365.6L1448.1 1368.6L1448.2 1371.6L1448.3 1374.6L1448.5 1377.6L1448.6 1380.6L1448.7 1383.5L1448.9 1386.5L1449.0 1389.5L1449.2 1392.5L1449.3 1395.4L1449.4 1398.4L1449.6 1401.3L1449.7 1404.3L1449.9 1407.2L1450.0 1410.2L1450.2 1413.1L1450.3 1416.1L1450.5 1419.0" stroke="#ff0000" stroke-dasharray="42 23.22"/>
<path d="M244.0 271.3L246.4 273.2L248.7 275.0L251.1 276.8L253.5 278.6L255.9 280.4L258.3 282.3L260.7 284.0L263.1 285.8L265.5 287.6L268.0 289.4L270.4 291.2L272.8 292.9L275.2 294.7L277.7 296.4L280.1 298.2L282.5 299.9L285.0 301.7L287.4 303.4L289.9 305.1L292.4 306.8L294.8 308.5L297.3 310.2L299.8 311.9L302.2 313.6L304.7 315.3L307.2 317.0L309.7 318.7L312.2 320.3L314.7 322.0L317.2 323.6L319.7 325.3L322.2 326.9L324.7 328.6L327.2 330.2L329.7 331.8L332.2 333.5L334.7 335.1L337.2 336.7L339.8 338.3L342.3 339.9L344.8 341.5L347.4 343.1L349.9 344.7L352.4 346.3L355.0 347.9L357.5 349.5L360.1 351.0L362.6 352.6L365.2 354.2L367.7 355.7L370.3 357.3L372.9 358.9L375.4 360.4L378.0 362.0L380.6 363.5L383.1 365.0L385.7 366.6L388.3 368.1L390.9 369.6L393.4 371.2L396.0 372.7L398.6 374.2L401.2 375.7L403.8 377.2L406.4 378.8L409.0 380.3L411.5 381.8L414.1 383.3L416.7 384.8L419.3 386.3L421.9 387.8L424.5 389.3L427.1 390.8L429.7 392.2L432.3 393.7L434.9 395.2L437.5 396.7L440.2 398.2L442.8 399.7L445.4 401.1L448.0 402.6L450.6 404.1L453.2 405.6L455.8 407.0L458.4 408.5L461.1 410.0L463.7 411.4L466.3 412.9L468.9 414.3L471.5 415.8L474.1 417.3L476.8 418.7L479.4 420.2L482.0 421.6L484.6 423.1L487.3 424.5L489.9 426.0L492.5 427.4L495.1 428.9L497.8 430.3L500.4 431.8L503.0 433.2L505.6 434.7L508.3 436.1L510.9 437.5L513.5 439.0L516.2 440.4L518.8 441.9L521.4 443.3L524.1 444.7L526.7 446.2L529.3 447.6L532.0 449.0L534.6 450.4L537.2 451.9L539.9 453.3L542.5 454.7L545.2 456.2L547.8 457.6L550.4 459.0L553.1 460.4L555.7 461.8L558.4 463.3L561.0 464.7L563.7 466.1L566.3 467.5L568.9 468.9L571.6 470.3L574.2 471.7L576.9 473.2L579.5 474.6L582.2 476.0L584.8 477.4L587.5 478.8L590.1 480.2L592.8 481.6L595.4 483.0L598.1 484.4L600.7 485.8L603.4 487.2L606.0 488.6L608.7 490.0L611.3 491.4L614.0 492.8L616.6 494.2L619.3 495.6L621.9 497.0L624.6 498.4L627.2 499.8L629.9 501.2L632.5 502.6L635.2 504.0L637.9 505.4L640.5 506.8L643.2 508.2L645.8 509.6L648.5 511.0L651.1 512.4L653.8 513.7L656.4 515.1L659.1 516.5L661.8 517.9L664.4 519.3L667.1 520.7L669.7 522.1L672.4 523.5L675.1 524.8L677.7 526.2L680.4 527.6L683.0 529.0L685.7 530.4L688.4 531.8L691.0 533.2L693.7 534.5L696.3 535.9L699.0 537.3L701.7 538.7L704.3 540.1L707.0 541.4L709.6 542.8L712.3 544.2L715.0 545.6L717.6 547.0L720.3 548.4L722.9 549.7L725.6 551.1L728.3 552.5L730.9 553.9L733.6 555.3L736.2 556.7L738.9 558.0L741.6 559.4L744.2 560.8L746.9 562.2L749.5 563.6L752.2 564.9L754.9 566.3L757.5 567.7L760.2 569.1L762.8 570.5L765.5 571.9L768.2 573.3L770.8 574.6L773.5 576.0L776.1 577.4L778.8 578.8L781.4 580.2L784.1 581.6L786.8 583.0L789.4 584.3L792.1 585.7L794.7 587.1L797.4 588.5L800.0 589.9L802.7 591.3L805.3 592.7L808.0 594.1L810.7 595.5L813.3 596.9L816.0 598.3L818.6 599.7L821.3 601.1L823.9 602.5L826.6 603.9L829.2 605.3L831.9 606.7L834.5 608.1L837.2 609.5L839.8 610.9L842.5 612.3L845.1 613.7L847.8 615.1L850.4 616.5L853.1 617.9L855.7 619.3L858.3 620.7L861.0 622.1L863.6 623.5L866.3 625.0L868.9 626.4L871.6 627.8L874.2 629.2L876.8 630.6L879.5 632.0L882.1 633.5L884.8 634.9L887.4 636.3L890.0 637.7L892.7 639.2L895.3 640.6L897.9 642.0L900.6 643.5L903.2 644.9L905.8 646.3L908.5 647.8L911.1 649.2L913.7 650.6L916.4 652.1L919.0 653.5L921.6 654.9L924.3 656.4L926.9 657.8L929.5 659.3L932.2 660.7L934.8 662.2L937.4 663.6L940.0 665.1L942.7 666.5L945.3 668.0L947.9 669.4L950.5 670.9L953.2 672.3L955.8 673.8L958.4 675.2L961.0 676.7L963.6 678.1L966.3 679.6L968.9 681.1L971.5 682.5L974.1 684.0L976.7 685.4L979.4 686.9L982.0 688.4L984.6 689.8L987.2 691.3L989.8 692.8L992.4 694.2L995.1 695.7L997.7 697.2L1000.3 698.6L1002.9 700.1L1005.5 701.6L1008.1 703.0L1010.7 704.5L1013.4 706.0L1016.0 707.5L1018.6 708.9L1021.2 710.4L1023.8 711.9L1026.4 713.3L1029.0 714.8L1031.6 716.3L1034.3 717.8L1036.9 719.3L1039.5 720.7L1042.1 722.2L1044.7 723.7L1047.3 725.2L1049.9 726.6L1052.5 728.1L1055.1 729.6L1057.7 731.1L1060.3 732.6L1062.9 734.0L1065.6 735.5L1068.2 737.0L1070.8 738.5L1073.4 740.0L1076.0 741.5L1078.6 742.9L1081.2 744.4L1083.8 745.9L1086.4 747.4L1089.0 748.9L1091.6 750.4L1094.2 751.8L1096.8 753.3L1099.4 754.8L1102.0 756.3L1104.6 757.8L1107.3 759.3L1109.9 760.8L1112.5 762.3L1115.1 763.7L1117.7 765.2L1120.3 766.7L1122.9 768.2L1125.5 769.7L1128.1 771.2L1130.7 772.7L1133.3 774.2L1135.9 775.7L1138.5 777.1L1141.1 778.6L1143.7 780.1L1146.3 781.6L1148.9 783.1L1151.5 784.6L1154.1 786.1L1156.7 787.6L1159.3 789.1L1161.9 790.6L1164.5 792.1L1167.1 793.6L1169.7 795.1L1172.3 796.6L1174.8 798.1L1177.4 799.6L1180.0 801.1L1182.6 802.6L1185.2 804.1L1187.8 805.6L1190.4 807.1L1193.0 808.7L1195.6 810.2L1198.2 811.7L1200.7 813.2L1203.3 814.7L1205.9 816.2L1208.5 817.7L1211.1 819.3L1213.7 820.8L1216.3 822.3L1218.8 823.8L1221.4 825.4L1224.0 826.9L1226.6 828.4L1229.1 829.9L1231.7 831.5L1234.3 833.0L1236.9 834.5L1239.4 836.1L1242.0 837.6L1244.6 839.1L1247.2 840.7L1249.7 842.2L1252.3 843.8L1254.9 845.3L1257.4 846.9L1260.0 848.4L1262.6 850.0L1265.1 851.5L1267.7 853.1L1270.2 854.6L1272.8 856.2L1275.3 857.7L1277.9 859.3L1280.5 860.9L1283.0 862.4L1285.6 864.0L1288.1 865.6L1290.7 867.2L1293.2 868.7L1295.8 870.3L1298.3 871.9L1300.8 873.5L1303.4 875.0L1305.9 876.6L1308.5 878.2L1311.0 879.8L1313.5 881.4L1316.1 883.0L1318.6 884.6L1321.1 886.2L1323.7 887.8L1326.2 889.4L1328.7 891.0L1331.3 892.6L1333.8 894.2L1336.3 895.9L1338.8 897.5L1341.3 899.1L1343.9 900.7L1346.4 902.3L1348.9 904.0L1351.4 905.6L1353.9 907.2L1356.4 908.9L1358.9 910.5L1361.4 912.2L1363.9 913.8L1366.4 915.5L1368.9 917.1L1371.4 918.8L1373.9 920.4L1376.4 922.1L1378.9 923.7L1381.4 925.4L1383.9 927.1L1386.4 928.7L1388.9 930.4L1391.4 932.1L1393.8 933.8L1396.3 935.5L1398.8 937.2L1401.3 938.8L1403.7 940.5L1406.2 942.2L1408.7 943.9L1411.1 945.6L1413.6 947.4L1416.1 949.1L1418.5 950.8L1421.0 952.5L1423.4 954.2L1425.9 955.9L1428.3 957.7L1430.8 959.4L1433.2 961.1L1435.7 962.9L1438.1 964.6L1440.6 966.4L1443.0 968.1L1445.4 969.9L1447.9 971.6L1450.3 973.4L1452.7 975.2L1455.2 976.9L1457.6 978.7L1460.0 980.5L1462.4 982.3L1464.8 984.0L1467.2 985.8L1469.7 987.6L1472.1 989.4L1474.5 991.2L1476.9 993.0L1479.3 994.8L1481.7 996.7L1484.1 998.5L1486.5 1000.3L1488.9 1002.1L1491.2 1003.9L1493.6 1005.8L1496.0 1007.6L1498.4 1009.5L1500.8 1011.3L1503.1 1013.2L1505.5 1015.0L1507.9 1016.9L1510.2 1018.7L1512.6 1020.6L1515.0 1022.5L1517.3 1024.4L1519.7 1026.2L1522.0 1028.1L1524.4 1030.0L1526.7 1031.9L1529.0 1033.8L1531.4 1035.7L1533.7 1037.6L1536.0 1039.6L1538.3 1041.5L1540.7 1043.4L1543.0 1045.4L1545.3 1047.3L1547.6 1049.2L1549.9 1051.2L1552.2 1053.2L1554.4 1055.1L1556.7 1057.1L1559.0 1059.1L1561.2 1061.0L1563.5 1063.0L1565.7 1065.0L1568.0 1067.0L1570.2 1069.0L1572.5 1071.1L1574.7 1073.1L1576.9 1075.1L1579.1 1077.1L1581.3 1079.2L1583.5 1081.2L1585.7 1083.3L1587.9 1085.4L1590.0 1087.4L1592.2 1089.5L1594.3 1091.6L1596.5 1093.7L1598.6 1095.8L1600.7 1097.9L1602.9 1100.0L1605.0 1102.1L1607.1 1104.3L1609.2 1106.4L1611.2 1108.5L1613.3 1110.7L1615.4 1112.9L1617.4 1115.0L1619.5 1117.2L1621.5 1119.4L1623.5 1121.6L1625.5 1123.8L1627.5 1126.0L1629.5 1128.2L1631.5 1130.5L1633.5 1132.7L1635.4 1135.0L1637.4 1137.2L1639.3 1139.5L1641.2 1141.8L1643.1 1144.1L1645.0 1146.4L1646.9 1148.7L1648.8 1151.0L1650.6 1153.3L1652.5 1155.6L1654.3 1158.0L1656.1 1160.3L1657.9 1162.7L1659.7 1165.1L1661.5 1167.5L1663.3 1169.9L1665.0 1172.3L1666.8 1174.7L1668.5 1177.1L1670.2 1179.5L1671.9 1182.0L1673.6 1184.4L1675.2 1186.9L1676.9 1189.4L1678.5 1191.9L1680.2 1194.4L1681.8 1196.9L1683.4 1199.4L1684.9 1201.9L1686.5 1204.5L1688.1 1207.0L1689.6 1209.6L1691.1 1212.2L1692.6 1214.7L1694.1 1217.3L1695.6 1219.9L1697.0 1222.5L1698.5 1225.2L1699.9 1227.8L1701.3 1230.4L1702.7 1233.1L1704.1 1235.7L1705.4 1238.4L1706.8 1241.1L1708.1 1243.8L1709.4 1246.5L1710.7 1249.2L1711.9 1251.9L1713.2 1254.6L1714.4 1257.3L1715.7 1260.0L1716.9 1262.8L1718.1 1265.5L1719.2 1268.3L1720.4 1271.1L1721.5 1273.8L1722.6 1276.6L1723.8 1279.4L1724.8 1282.2L1725.9 1285.0L1726.9 1287.8L1728.0 1290.6L1729.0 1293.5L1730.0 1296.3L1731.0 1299.1L1731.9 1302.0L1732.9 1304.8L1733.8 1307.7L1734.7 1310.6L1735.6 1313.4L1736.4 1316.3L1737.3 1319.2L1738.1 1322.1L1738.9 1325.0L1739.7 1327.9L1740.5 1330.8L1741.2 1333.7L1741.9 1336.6L1742.6 1339.5L1743.3 1342.5L1744.0 1345.4L1744.7 1348.3L1745.3 1351.3L1745.9 1354.2L1746.5 1357.2L1747.1 1360.1L1747.6 1363.1L1748.1 1366.0L1748.7 1369.0L1749.1 1372.0L1749.6 1375.0L1750.1 1377.9L1750.5 1380.9L1750.9 1383.9L1751.3 1386.9L1751.7 1389.9L1752.0 1392.9L1752.3 1395.9L1752.6 1398.9L1752.9 1401.9L1753.2 1404.9L1753.4 1408.0L1753.6 1411.0L1753.8 1414.0L1754.0 1417.0" stroke="#0000ff"/>
<path d="M244.0 295.5L246.4 297.3L248.9 299.0L251.3 300.8L253.7 302.5L256.2 304.3L258.6 306.0L261.1 307.8L263.5 309.5L266.0 311.2L268.4 312.9L270.9 314.6L273.4 316.4L275.8 318.1L278.3 319.8L280.8 321.5L283.3 323.2L285.7 324.8L288.2 326.5L290.7 328.2L293.2 329.9L295.7 331.5L298.2 333.2L300.7 334.9L303.2 336.5L305.7 338.2L308.2 339.8L310.7 341.4L313.2 343.1L315.7 344.7L318.2 346.3L320.7 348.0L323.2 349.6L325.8 351.2L328.3 352.8L330.8 354.4L333.3 356.0L335.9 357.6L338.4 359.2L341.0 360.8L343.5 362.4L346.0 364.0L348.6 365.6L351.1 367.1L353.7 368.7L356.2 370.3L358.8 371.8L361.3 373.4L363.9 375.0L366.4 376.5L369.0 378.1L371.6 379.6L374.1 381.1L376.7 382.7L379.3 384.2L381.8 385.8L384.4 387.3L387.0 388.8L389.6 390.3L392.1 391.9L394.7 393.4L397.3 394.9L399.9 396.4L402.5 397.9L405.1 399.4L407.7 400.9L410.3 402.4L412.8 403.9L415.4 405.4L418.0 406.9L420.6 408.4L423.2 409.9L425.8 411.4L428.4 412.8L431.0 414.3L433.7 415.8L436.3 417.3L438.9 418.7L441.5 420.2L444.1 421.7L446.7 423.1L449.3 424.6L451.9 426.0L454.6 427.5L457.2 428.9L459.8 430.4L462.4 431.8L465.0 433.3L467.7 434.7L470.3 436.2L472.9 437.6L475.5 439.1L478.2 440.5L480.8 441.9L483.4 443.4L486.1 444.8L488.7 446.2L491.3 447.7L494.0 449.1L496.6 450.5L499.3 451.9L501.9 453.4L504.5 454.8L507.2 456.2L509.8 457.6L512.5 459.0L515.1 460.4L517.7 461.8L520.4 463.3L523.0 464.7L525.7 466.1L528.3 467.5L531.0 468.9L533.6 470.3L536.3 471.7L538.9 473.1L541.6 474.5L544.2 475.9L546.9 477.3L549.5 478.7L552.2 480.1L554.8 481.5L557.5 482.9L560.1 484.3L562.8 485.7L565.4 487.1L568.1 488.5L570.7 489.9L573.4 491.3L576.1 492.7L578.7 494.0L581.4 495.4L584.0 496.8L586.7 498.2L589.3 499.6L592.0 501.0L594.7 502.4L597.3 503.8L600.0 505.2L602.6 506.6L605.3 507.9L607.9 509.3L610.6 510.7L613.3 512.1L615.9 513.5L618.6 514.9L621.2 516.3L623.9 517.7L626.5 519.0L629.2 520.4L631.9 521.8L634.5 523.2L637.2 524.6L639.8 526.0L642.5 527.4L645.1 528.8L647.8 530.2L650.4 531.6L653.1 532.9L655.8 534.3L658.4 535.7L661.1 537.1L663.7 538.5L666.4 539.9L669.0 541.3L671.7 542.7L674.3 544.1L677.0 545.5L679.6 546.9L682.3 548.3L684.9 549.7L687.6 551.1L690.2 552.5L692.9 553.9L695.5 555.3L698.2 556.7L700.8 558.1L703.5 559.5L706.1 560.9L708.8 562.3L711.4 563.7L714.0 565.1L716.7 566.5L719.3 567.9L722.0 569.3L724.6 570.8L727.3 572.2L729.9 573.6L732.6 575.0L735.2 576.4L737.8 577.8L740.5 579.2L743.1 580.6L745.8 582.0L748.4 583.5L751.1 584.9L753.7 586.3L756.3 587.7L759.0 589.1L761.6 590.5L764.3 591.9L766.9 593.4L769.5 594.8L772.2 596.2L774.8 597.6L777.4 599.0L780.1 600.4L782.7 601.9L785.4 603.3L788.0 604.7L790.6 606.1L793.3 607.6L795.9 609.0L798.5 610.4L801.2 611.8L803.8 613.2L806.4 614.7L809.1 616.1L811.7 617.5L814.3 619.0L817.0 620.4L819.6 621.8L822.2 623.2L824.9 624.7L827.5 626.1L830.1 627.5L832.8 629.0L835.4 630.4L838.0 631.8L840.6 633.3L843.3 634.7L845.9 636.1L848.5 637.5L851.2 639.0L853.8 640.4L856.4 641.9L859.0 643.3L861.7 644.7L864.3 646.2L866.9 647.6L869.6 649.0L872.2 650.5L874.8 651.9L877.4 653.4L880.1 654.8L882.7 656.2L885.3 657.7L887.9 659.1L890.6 660.6L893.2 662.0L895.8 663.5L898.4 664.9L901.1 666.3L903.7 667.8L906.3 669.2L908.9 670.7L911.5 672.1L914.2 673.6L916.8 675.0L919.4 676.5L922.0 677.9L924.6 679.4L927.3 680.8L929.9 682.3L932.5 683.7L935.1 685.2L937.8 686.6L940.4 688.1L943.0 689.5L945.6 691.0L948.2 692.4L950.8 693.9L953.5 695.3L956.1 696.8L958.7 698.3L961.3 699.7L963.9 701.2L966.5 702.6L969.2 704.1L971.8 705.5L974.4 707.0L977.0 708.5L979.6 709.9L982.2 711.4L984.9 712.8L987.5 714.3L990.1 715.8L992.7 717.2L995.3 718.7L997.9 720.2L1000.5 721.6L1003.2 723.1L1005.8 724.6L1008.4 726.0L1011.0 727.5L1013.6 729.0L1016.2 730.4L1018.8 731.9L1021.5 733.4L1024.1 734.8L1026.7 736.3L1029.3 737.8L1031.9 739.2L1034.5 740.7L1037.1 742.2L1039.7 743.7L1042.3 745.1L1045.0 746.6L1047.6 748.1L1050.2 749.6L1052.8 751.0L1055.4 752.5L1058.0 754.0L1060.6 755.5L1063.2 756.9L1065.8 758.4L1068.4 759.9L1071.0 761.4L1073.7 762.8L1076.3 764.3L1078.9 765.8L1081.5 767.3L1084.1 768.8L1086.7 770.3L1089.3 771.7L1091.9 773.2L1094.5 774.7L1097.1 776.2L1099.7 777.7L1102.3 779.2L1104.9 780.7L1107.5 782.1L1110.1 783.6L1112.7 785.1L1115.3 786.6L1117.9 788.1L1120.5 789.6L1123.1 791.1L1125.7 792.6L1128.3 794.1L1130.9 795.6L1133.5 797.1L1136.1 798.6L1138.7 800.1L1141.3 801.6L1143.9 803.1L1146.5 804.6L1149.1 806.1L1151.7 807.6L1154.3 809.1L1156.9 810.7L1159.4 812.2L1162.0 813.7L1164.6 815.2L1167.2 816.7L1169.8 818.3L1172.4 819.8L1174.9 821.3L1177.5 822.8L1180.1 824.4L1182.7 825.9L1185.3 827.4L1187.8 829.0L1190.4 830.5L1193.0 832.0L1195.5 833.6L1198.1 835.1L1200.7 836.7L1203.3 838.2L1205.8 839.8L1208.4 841.3L1210.9 842.9L1213.5 844.4L1216.1 846.0L1218.6 847.5L1221.2 849.1L1223.7 850.7L1226.3 852.2L1228.8 853.8L1231.4 855.4L1233.9 857.0L1236.5 858.5L1239.0 860.1L1241.6 861.7L1244.1 863.3L1246.7 864.9L1249.2 866.5L1251.7 868.1L1254.3 869.7L1256.8 871.3L1259.3 872.9L1261.9 874.5L1264.4 876.1L1266.9 877.7L1269.4 879.3L1272.0 880.9L1274.5 882.5L1277.0 884.2L1279.5 885.8L1282.0 887.4L1284.5 889.0L1287.0 890.7L1289.5 892.3L1292.0 894.0L1294.5 895.6L1297.0 897.3L1299.5 898.9L1302.0 900.6L1304.5 902.2L1307.0 903.9L1309.5 905.5L1312.0 907.2L1314.5 908.9L1317.0 910.6L1319.4 912.2L1321.9 913.9L1324.4 915.6L1326.8 917.3L1329.3 919.0L1331.8 920.7L1334.2 922.4L1336.7 924.1L1339.2 925.8L1341.6 927.5L1344.1 929.2L1346.5 931.0L1349.0 932.7L1351.4 934.4L1353.8 936.2L1356.3 937.9L1358.7 939.6L1361.2 941.4L1363.6 943.1L1366.0 944.9L1368.4 946.6L1370.9 948.4L1373.3 950.2L1375.7 951.9L1378.1 953.7L1380.5 955.5L1382.9 957.3L1385.3 959.1L1387.7 960.9L1390.1 962.7L1392.5 964.5L1394.9 966.3L1397.3 968.1L1399.7 969.9L1402.0 971.7L1404.4 973.5L1406.8 975.4L1409.2 977.2L1411.5 979.1L1413.9 980.9L1416.2 982.7L1418.6 984.6L1421.0 986.5L1423.3 988.3L1425.7 990.2L1428.0 992.1L1430.3 993.9L1432.7 995.8L1435.0 997.7L1437.3 999.6L1439.7 1001.5L1442.0 1003.4L1444.3 1005.3L1446.6 1007.2L1448.9 1009.2L1451.2 1011.1L1453.5 1013.0L1455.8 1015.0L1458.1 1016.9L1460.4 1018.9L1462.7 1020.8L1465.0 1022.8L1467.3 1024.7L1469.5 1026.7L1471.8 1028.7L1474.1 1030.7L1476.3 1032.6L1478.6 1034.6L1480.8 1036.6L1483.1 1038.6L1485.3 1040.7L1487.6 1042.7L1489.8 1044.7L1492.0 1046.7L1494.2 1048.8L1496.4 1050.8L1498.6 1052.9L1500.8 1054.9L1503.0 1057.0L1505.2 1059.1L1507.4 1061.1L1509.5 1063.2L1511.7 1065.3L1513.8 1067.4L1516.0 1069.5L1518.1 1071.6L1520.2 1073.7L1522.4 1075.9L1524.5 1078.0L1526.6 1080.2L1528.7 1082.3L1530.7 1084.5L1532.8 1086.6L1534.9 1088.8L1536.9 1091.0L1539.0 1093.2L1541.0 1095.4L1543.0 1097.6L1545.1 1099.8L1547.1 1102.0L1549.0 1104.2L1551.0 1106.5L1553.0 1108.7L1555.0 1111.0L1556.9 1113.2L1558.8 1115.5L1560.8 1117.8L1562.7 1120.1L1564.6 1122.4L1566.5 1124.7L1568.3 1127.0L1570.2 1129.3L1572.0 1131.6L1573.9 1134.0L1575.7 1136.3L1577.5 1138.7L1579.3 1141.1L1581.1 1143.4L1582.9 1145.8L1584.6 1148.2L1586.3 1150.6L1588.1 1153.1L1589.8 1155.5L1591.5 1157.9L1593.2 1160.4L1594.8 1162.8L1596.5 1165.3L1598.1 1167.8L1599.7 1170.3L1601.3 1172.8L1602.9 1175.3L1604.5 1177.8L1606.0 1180.3L1607.6 1182.9L1609.1 1185.4L1610.6 1188.0L1612.1 1190.5L1613.6 1193.1L1615.0 1195.7L1616.5 1198.3L1617.9 1200.9L1619.3 1203.6L1620.7 1206.2L1622.0 1208.8L1623.4 1211.5L1624.7 1214.2L1626.0 1216.8L1627.3 1219.5L1628.6 1222.2L1629.9 1224.9L1631.1 1227.6L1632.4 1230.3L1633.6 1233.1L1634.8 1235.8L1635.9 1238.6L1637.1 1241.3L1638.3 1244.1L1639.4 1246.9L1640.5 1249.6L1641.6 1252.4L1642.7 1255.2L1643.8 1258.0L1644.8 1260.8L1645.8 1263.7L1646.9 1266.5L1647.9 1269.3L1648.9 1272.2L1649.8 1275.0L1650.8 1277.8L1651.7 1280.7L1652.7 1283.6L1653.6 1286.4L1654.5 1289.3L1655.4 1292.2L1656.2 1295.1L1657.1 1298.0L1657.9 1300.9L1658.7 1303.8L1659.5 1306.7L1660.3 1309.6L1661.1 1312.5L1661.9 1315.4L1662.6 1318.3L1663.4 1321.3L1664.1 1324.2L1664.8 1327.1L1665.5 1330.1L1666.1 1333.0L1666.8 1336.0L1667.5 1338.9L1668.1 1341.8L1668.7 1344.8L1669.3 1347.8L1669.9 1350.7L1670.5 1353.7L1671.1 1356.6L1671.6 1359.6L1672.2 1362.6L1672.7 1365.5L1673.2 1368.5L1673.7 1371.5L1674.2 1374.4L1674.7 1377.4L1675.1 1380.4L1675.6 1383.4L1676.0 1386.3L1676.4 1389.3L1676.8 1392.3L1677.2 1395.2L1677.6 1398.2L1678.0 1401.2L1678.4 1404.2L1678.7 1407.1L1679.0 1410.1L1679.4 1413.1L1679.7 1416.0L1680.0 1419.0" stroke="#0000ff" stroke-dasharray="42 23.22"/>
<path d="M244.0 198.5L246.4 200.3L248.9 202.0L251.3 203.8L253.8 205.5L256.2 207.2L258.6 209.0L261.1 210.7L263.6 212.4L266.0 214.2L268.5 215.9L270.9 217.6L273.4 219.3L275.9 221.0L278.3 222.7L280.8 224.4L283.3 226.1L285.8 227.8L288.2 229.4L290.7 231.1L293.2 232.8L295.7 234.5L298.2 236.1L300.7 237.8L303.2 239.5L305.7 241.1L308.2 242.8L310.7 244.4L313.2 246.1L315.7 247.7L318.2 249.3L320.7 251.0L323.2 252.6L325.7 254.2L328.3 255.8L330.8 257.5L333.3 259.1L335.8 260.7L338.3 262.3L340.9 263.9L343.4 265.5L345.9 267.1L348.5 268.7L351.0 270.3L353.6 271.9L356.1 273.5L358.6 275.0L361.2 276.6L363.7 278.2L366.3 279.8L368.8 281.3L371.4 282.9L373.9 284.4L376.5 286.0L379.1 287.6L381.6 289.1L384.2 290.7L386.7 292.2L389.3 293.8L391.9 295.3L394.4 296.8L397.0 298.4L399.6 299.9L402.2 301.4L404.7 302.9L407.3 304.5L409.9 306.0L412.5 307.5L415.1 309.0L417.6 310.5L420.2 312.0L422.8 313.6L425.4 315.1L428.0 316.6L430.6 318.1L433.2 319.6L435.8 321.1L438.4 322.5L441.0 324.0L443.6 325.5L446.2 327.0L448.8 328.5L451.4 330.0L454.0 331.5L456.6 332.9L459.2 334.4L461.8 335.9L464.4 337.3L467.0 338.8L469.6 340.3L472.2 341.7L474.9 343.2L477.5 344.7L480.1 346.1L482.7 347.6L485.3 349.0L488.0 350.5L490.6 351.9L493.2 353.4L495.8 354.8L498.4 356.3L501.1 357.7L503.7 359.2L506.3 360.6L509.0 362.0L511.6 363.5L514.2 364.9L516.9 366.3L519.5 367.8L522.1 369.2L524.8 370.6L527.4 372.1L530.0 373.5L532.7 374.9L535.3 376.3L537.9 377.8L540.6 379.2L543.2 380.6L545.9 382.0L548.5 383.4L551.1 384.8L553.8 386.3L556.4 387.7L559.1 389.1L561.7 390.5L564.4 391.9L567.0 393.3L569.7 394.7L572.3 396.1L575.0 397.5L577.6 398.9L580.3 400.3L582.9 401.8L585.6 403.2L588.2 404.6L590.9 406.0L593.5 407.4L596.2 408.8L598.8 410.2L601.5 411.6L604.1 413.0L606.8 414.3L609.4 415.7L612.1 417.1L614.7 418.5L617.4 419.9L620.0 421.3L622.7 422.7L625.4 424.1L628.0 425.5L630.7 426.9L633.3 428.3L636.0 429.7L638.6 431.1L641.3 432.5L643.9 433.9L646.6 435.2L649.3 436.6L651.9 438.0L654.6 439.4L657.2 440.8L659.9 442.2L662.5 443.6L665.2 445.0L667.9 446.4L670.5 447.8L673.2 449.2L675.8 450.5L678.5 451.9L681.1 453.3L683.8 454.7L686.4 456.1L689.1 457.5L691.8 458.9L694.4 460.3L697.1 461.7L699.7 463.1L702.4 464.5L705.0 465.9L707.7 467.3L710.3 468.6L713.0 470.0L715.6 471.4L718.3 472.8L720.9 474.2L723.6 475.6L726.3 477.0L728.9 478.4L731.6 479.8L734.2 481.2L736.9 482.6L739.5 484.0L742.2 485.4L744.8 486.8L747.5 488.2L750.1 489.6L752.8 491.0L755.4 492.4L758.1 493.8L760.7 495.2L763.4 496.6L766.0 498.0L768.6 499.4L771.3 500.8L773.9 502.2L776.6 503.6L779.2 505.0L781.9 506.4L784.5 507.9L787.2 509.3L789.8 510.7L792.5 512.1L795.1 513.5L797.8 514.9L800.4 516.3L803.0 517.7L805.7 519.1L808.3 520.5L811.0 521.9L813.6 523.3L816.3 524.8L818.9 526.2L821.5 527.6L824.2 529.0L826.8 530.4L829.5 531.8L832.1 533.2L834.8 534.6L837.4 536.1L840.0 537.5L842.7 538.9L845.3 540.3L848.0 541.7L850.6 543.1L853.2 544.6L855.9 546.0L858.5 547.4L861.1 548.8L863.8 550.2L866.4 551.7L869.1 553.1L871.7 554.5L874.3 555.9L877.0 557.3L879.6 558.8L882.2 560.2L884.9 561.6L887.5 563.0L890.1 564.5L892.8 565.9L895.4 567.3L898.0 568.7L900.7 570.2L903.3 571.6L905.9 573.0L908.6 574.4L911.2 575.9L913.8 577.3L916.5 578.7L919.1 580.2L921.7 581.6L924.4 583.0L927.0 584.5L929.6 585.9L932.3 587.3L934.9 588.8L937.5 590.2L940.1 591.6L942.8 593.1L945.4 594.5L948.0 595.9L950.7 597.4L953.3 598.8L955.9 600.3L958.5 601.7L961.2 603.1L963.8 604.6L966.4 606.0L969.0 607.5L971.7 608.9L974.3 610.4L976.9 611.8L979.5 613.2L982.2 614.7L984.8 616.1L987.4 617.6L990.0 619.0L992.7 620.5L995.3 621.9L997.9 623.4L1000.5 624.8L1003.1 626.3L1005.8 627.7L1008.4 629.2L1011.0 630.6L1013.6 632.1L1016.2 633.5L1018.9 635.0L1021.5 636.4L1024.1 637.9L1026.7 639.4L1029.3 640.8L1032.0 642.3L1034.6 643.7L1037.2 645.2L1039.8 646.6L1042.4 648.1L1045.0 649.6L1047.7 651.0L1050.3 652.5L1052.9 654.0L1055.5 655.4L1058.1 656.9L1060.7 658.3L1063.3 659.8L1066.0 661.3L1068.6 662.7L1071.2 664.2L1073.8 665.7L1076.4 667.2L1079.0 668.6L1081.6 670.1L1084.2 671.6L1086.9 673.0L1089.5 674.5L1092.1 676.0L1094.7 677.5L1097.3 678.9L1099.9 680.4L1102.5 681.9L1105.1 683.4L1107.7 684.8L1110.3 686.3L1112.9 687.8L1115.5 689.3L1118.2 690.8L1120.8 692.2L1123.4 693.7L1126.0 695.2L1128.6 696.7L1131.2 698.2L1133.8 699.7L1136.4 701.2L1139.0 702.6L1141.6 704.1L1144.2 705.6L1146.8 707.1L1149.4 708.6L1152.0 710.1L1154.6 711.6L1157.2 713.1L1159.8 714.6L1162.4 716.1L1165.0 717.6L1167.6 719.1L1170.2 720.5L1172.8 722.0L1175.4 723.5L1178.0 725.0L1180.6 726.5L1183.2 728.0L1185.8 729.6L1188.4 731.1L1191.0 732.6L1193.6 734.1L1196.2 735.6L1198.8 737.1L1201.4 738.6L1203.9 740.1L1206.5 741.6L1209.1 743.1L1211.7 744.6L1214.3 746.1L1216.9 747.7L1219.5 749.2L1222.1 750.7L1224.7 752.2L1227.3 753.7L1229.8 755.2L1232.4 756.8L1235.0 758.3L1237.6 759.8L1240.2 761.3L1242.8 762.8L1245.4 764.4L1247.9 765.9L1250.5 767.4L1253.1 769.0L1255.7 770.5L1258.3 772.0L1260.8 773.5L1263.4 775.1L1266.0 776.6L1268.6 778.1L1271.1 779.7L1273.7 781.2L1276.3 782.8L1278.9 784.3L1281.4 785.8L1284.0 787.4L1286.6 788.9L1289.1 790.5L1291.7 792.0L1294.3 793.6L1296.8 795.1L1299.4 796.7L1302.0 798.2L1304.5 799.8L1307.1 801.3L1309.7 802.9L1312.2 804.4L1314.8 806.0L1317.3 807.5L1319.9 809.1L1322.5 810.7L1325.0 812.2L1327.6 813.8L1330.1 815.4L1332.7 816.9L1335.2 818.5L1337.8 820.1L1340.3 821.6L1342.9 823.2L1345.4 824.8L1348.0 826.3L1350.5 827.9L1353.1 829.5L1355.6 831.1L1358.2 832.7L1360.7 834.2L1363.2 835.8L1365.8 837.4L1368.3 839.0L1370.9 840.6L1373.4 842.2L1375.9 843.8L1378.5 845.4L1381.0 847.0L1383.5 848.5L1386.1 850.1L1388.6 851.7L1391.1 853.3L1393.6 854.9L1396.2 856.6L1398.7 858.2L1401.2 859.8L1403.7 861.4L1406.3 863.0L1408.8 864.6L1411.3 866.2L1413.8 867.8L1416.3 869.4L1418.8 871.1L1421.3 872.7L1423.9 874.3L1426.4 875.9L1428.9 877.6L1431.4 879.2L1433.9 880.8L1436.4 882.5L1438.9 884.1L1441.4 885.8L1443.9 887.4L1446.4 889.0L1448.9 890.7L1451.4 892.3L1453.9 894.0L1456.3 895.7L1458.8 897.3L1461.3 899.0L1463.8 900.6L1466.3 902.3L1468.8 904.0L1471.3 905.6L1473.7 907.3L1476.2 909.0L1478.7 910.7L1481.1 912.4L1483.6 914.0L1486.1 915.7L1488.6 917.4L1491.0 919.1L1493.5 920.8L1495.9 922.5L1498.4 924.2L1500.9 925.9L1503.3 927.7L1505.8 929.4L1508.2 931.1L1510.7 932.8L1513.1 934.5L1515.6 936.3L1518.0 938.0L1520.4 939.7L1522.9 941.5L1525.3 943.2L1527.7 944.9L1530.2 946.7L1532.6 948.4L1535.0 950.2L1537.5 952.0L1539.9 953.7L1542.3 955.5L1544.7 957.3L1547.1 959.0L1549.5 960.8L1552.0 962.6L1554.4 964.4L1556.8 966.2L1559.2 968.0L1561.6 969.8L1564.0 971.6L1566.4 973.4L1568.8 975.2L1571.2 977.0L1573.6 978.8L1575.9 980.6L1578.3 982.5L1580.7 984.3L1583.1 986.1L1585.5 988.0L1587.8 989.8L1590.2 991.7L1592.6 993.5L1594.9 995.4L1597.3 997.3L1599.7 999.1L1602.0 1001.0L1604.4 1002.9L1606.7 1004.8L1609.1 1006.6L1611.4 1008.5L1613.8 1010.4L1616.1 1012.3L1618.4 1014.2L1620.8 1016.2L1623.1 1018.1L1625.4 1020.0L1627.7 1021.9L1630.0 1023.9L1632.4 1025.8L1634.7 1027.7L1637.0 1029.7L1639.2 1031.7L1641.5 1033.6L1643.8 1035.6L1646.1 1037.6L1648.4 1039.5L1650.6 1041.5L1652.9 1043.5L1655.1 1045.5L1657.4 1047.5L1659.6 1049.5L1661.8 1051.5L1664.1 1053.6L1666.3 1055.6L1668.5 1057.6L1670.7 1059.7L1672.9 1061.7L1675.1 1063.8L1677.3 1065.9L1679.5 1067.9L1681.6 1070.0L1683.8 1072.1L1685.9 1074.2L1688.1 1076.3L1690.2 1078.4L1692.3 1080.5L1694.5 1082.6L1696.6 1084.8L1698.7 1086.9L1700.8 1089.0L1702.8 1091.2L1704.9 1093.3L1707.0 1095.5L1709.0 1097.7L1711.1 1099.9L1713.1 1102.1L1715.1 1104.3L1717.1 1106.5L1719.2 1108.7L1721.1 1110.9L1723.1 1113.1L1725.1 1115.4L1727.1 1117.6L1729.0 1119.9L1731.0 1122.2L1732.9 1124.4L1734.8 1126.7L1736.7 1129.0L1738.6 1131.3L1740.5 1133.6L1742.4 1135.9L1744.2 1138.3L1746.1 1140.6L1747.9 1142.9L1749.7 1145.3L1751.5 1147.7L1753.3 1150.0L1755.1 1152.4L1756.9 1154.8L1758.6 1157.2L1760.4 1159.6L1762.1 1162.0L1763.8 1164.5L1765.5 1166.9L1767.2 1169.4L1768.9 1171.8L1770.6 1174.3L1772.2 1176.8L1773.8 1179.3L1775.5 1181.8L1777.1 1184.3L1778.7 1186.8L1780.2 1189.3L1781.8 1191.9L1783.4 1194.4L1784.9 1197.0L1786.4 1199.5L1787.9 1202.1L1789.4 1204.7L1790.9 1207.3L1792.3 1209.9L1793.8 1212.5L1795.2 1215.1L1796.6 1217.8L1798.0 1220.4L1799.4 1223.1L1800.8 1225.7L1802.2 1228.4L1803.5 1231.0L1804.8 1233.7L1806.2 1236.4L1807.5 1239.1L1808.7 1241.8L1810.0 1244.5L1811.3 1247.2L1812.5 1250.0L1813.7 1252.7L1815.0 1255.4L1816.2 1258.2L1817.3 1260.9L1818.5 1263.7L1819.7 1266.5L1820.8 1269.2L1821.9 1272.0L1823.1 1274.8L1824.2 1277.6L1825.2 1280.4L1826.3 1283.2L1827.4 1286.0L1828.4 1288.8L1829.4 1291.7L1830.4 1294.5L1831.4 1297.3L1832.4 1300.2L1833.4 1303.0L1834.3 1305.8L1835.3 1308.7L1836.2 1311.6L1837.1 1314.4L1838.0 1317.3L1838.8 1320.2L1839.7 1323.1L1840.6 1325.9L1841.4 1328.8L1842.2 1331.7L1843.0 1334.6L1843.8 1337.5L1844.6 1340.4L1845.3 1343.3L1846.1 1346.2L1846.8 1349.2L1847.5 1352.1L1848.2 1355.0L1848.9 1357.9L1849.5 1360.9L1850.2 1363.8L1850.8 1366.7L1851.5 1369.7L1852.1 1372.6L1852.7 1375.6L1853.2 1378.5L1853.8 1381.5L1854.4 1384.4L1854.9 1387.4L1855.4 1390.3L1855.9 1393.3L1856.4 1396.2L1856.9 1399.2L1857.3 1402.2L1857.8 1405.1L1858.2 1408.1L1858.6 1411.1L1859.0 1414.0L1859.4 1417.0" stroke="#000000"/>
<path d="M244.0 221.4L246.4 223.1L248.9 224.9L251.3 226.6L253.8 228.3L256.3 230.1L258.7 231.8L261.2 233.5L263.7 235.2L266.1 236.9L268.6 238.6L271.1 240.3L273.5 242.0L276.0 243.7L278.5 245.4L281.0 247.0L283.5 248.7L286.0 250.4L288.5 252.1L290.9 253.7L293.4 255.4L295.9 257.0L298.4 258.7L300.9 260.3L303.4 262.0L306.0 263.6L308.5 265.3L311.0 266.9L313.5 268.5L316.0 270.2L318.5 271.8L321.0 273.4L323.6 275.0L326.1 276.6L328.6 278.2L331.1 279.8L333.7 281.5L336.2 283.1L338.7 284.6L341.3 286.2L343.8 287.8L346.4 289.4L348.9 291.0L351.4 292.6L354.0 294.2L356.5 295.7L359.1 297.3L361.6 298.9L364.2 300.4L366.8 302.0L369.3 303.6L371.9 305.1L374.4 306.7L377.0 308.2L379.6 309.8L382.1 311.3L384.7 312.8L387.3 314.4L389.8 315.9L392.4 317.4L395.0 319.0L397.6 320.5L400.1 322.0L402.7 323.5L405.3 325.1L407.9 326.6L410.5 328.1L413.1 329.6L415.6 331.1L418.2 332.6L420.8 334.1L423.4 335.6L426.0 337.1L428.6 338.6L431.2 340.1L433.8 341.6L436.4 343.1L439.0 344.6L441.6 346.1L444.2 347.5L446.8 349.0L449.4 350.5L452.0 352.0L454.6 353.5L457.3 354.9L459.9 356.4L462.5 357.9L465.1 359.3L467.7 360.8L470.3 362.3L472.9 363.7L475.6 365.2L478.2 366.6L480.8 368.1L483.4 369.5L486.0 371.0L488.7 372.4L491.3 373.9L493.9 375.3L496.5 376.8L499.2 378.2L501.8 379.6L504.4 381.1L507.1 382.5L509.7 383.9L512.3 385.4L515.0 386.8L517.6 388.2L520.2 389.7L522.9 391.1L525.5 392.5L528.2 393.9L530.8 395.4L533.4 396.8L536.1 398.2L538.7 399.6L541.4 401.0L544.0 402.5L546.6 403.9L549.3 405.3L551.9 406.7L554.6 408.1L557.2 409.5L559.9 410.9L562.5 412.3L565.2 413.8L567.8 415.2L570.5 416.6L573.1 418.0L575.8 419.4L578.4 420.8L581.1 422.2L583.7 423.6L586.4 425.0L589.0 426.4L591.7 427.8L594.3 429.2L597.0 430.6L599.6 432.0L602.3 433.4L604.9 434.8L607.6 436.2L610.3 437.5L612.9 438.9L615.6 440.3L618.2 441.7L620.9 443.1L623.5 444.5L626.2 445.9L628.9 447.3L631.5 448.7L634.2 450.1L636.8 451.5L639.5 452.8L642.1 454.2L644.8 455.6L647.5 457.0L650.1 458.4L652.8 459.8L655.4 461.2L658.1 462.6L660.7 464.0L663.4 465.3L666.1 466.7L668.7 468.1L671.4 469.5L674.0 470.9L676.7 472.3L679.4 473.7L682.0 475.1L684.7 476.5L687.3 477.8L690.0 479.2L692.6 480.6L695.3 482.0L697.9 483.4L700.6 484.8L703.3 486.2L705.9 487.6L708.6 489.0L711.2 490.3L713.9 491.7L716.5 493.1L719.2 494.5L721.8 495.9L724.5 497.3L727.2 498.7L729.8 500.1L732.5 501.5L735.1 502.9L737.8 504.3L740.4 505.7L743.1 507.1L745.7 508.5L748.4 509.9L751.0 511.2L753.7 512.6L756.3 514.0L759.0 515.4L761.6 516.8L764.3 518.2L766.9 519.6L769.6 521.0L772.2 522.4L774.9 523.8L777.5 525.2L780.2 526.6L782.8 528.0L785.5 529.4L788.1 530.8L790.8 532.2L793.4 533.6L796.1 535.0L798.7 536.5L801.4 537.9L804.0 539.3L806.7 540.7L809.3 542.1L812.0 543.5L814.6 544.9L817.2 546.3L819.9 547.7L822.5 549.1L825.2 550.5L827.8 551.9L830.5 553.4L833.1 554.8L835.7 556.2L838.4 557.6L841.0 559.0L843.7 560.4L846.3 561.9L848.9 563.3L851.6 564.7L854.2 566.1L856.9 567.5L859.5 568.9L862.1 570.4L864.8 571.8L867.4 573.2L870.0 574.6L872.7 576.1L875.3 577.5L878.0 578.9L880.6 580.3L883.2 581.8L885.9 583.2L888.5 584.6L891.1 586.1L893.7 587.5L896.4 588.9L899.0 590.4L901.6 591.8L904.3 593.2L906.9 594.7L909.5 596.1L912.2 597.6L914.8 599.0L917.4 600.4L920.0 601.9L922.7 603.3L925.3 604.8L927.9 606.2L930.5 607.7L933.2 609.1L935.8 610.5L938.4 612.0L941.0 613.4L943.7 614.9L946.3 616.3L948.9 617.8L951.5 619.2L954.2 620.7L956.8 622.2L959.4 623.6L962.0 625.1L964.6 626.5L967.3 628.0L969.9 629.4L972.5 630.9L975.1 632.4L977.7 633.8L980.3 635.3L983.0 636.7L985.6 638.2L988.2 639.7L990.8 641.1L993.4 642.6L996.0 644.1L998.6 645.5L1001.3 647.0L1003.9 648.5L1006.5 650.0L1009.1 651.4L1011.7 652.9L1014.3 654.4L1016.9 655.8L1019.5 657.3L1022.2 658.8L1024.8 660.3L1027.4 661.7L1030.0 663.2L1032.6 664.7L1035.2 666.2L1037.8 667.6L1040.4 669.1L1043.0 670.6L1045.6 672.1L1048.2 673.6L1050.9 675.0L1053.5 676.5L1056.1 678.0L1058.7 679.5L1061.3 681.0L1063.9 682.5L1066.5 684.0L1069.1 685.4L1071.7 686.9L1074.3 688.4L1076.9 689.9L1079.5 691.4L1082.1 692.9L1084.7 694.4L1087.3 695.9L1089.9 697.3L1092.5 698.8L1095.1 700.3L1097.7 701.8L1100.3 703.3L1102.9 704.8L1105.5 706.3L1108.1 707.8L1110.7 709.3L1113.3 710.8L1115.9 712.3L1118.5 713.8L1121.1 715.3L1123.7 716.8L1126.3 718.3L1128.9 719.8L1131.5 721.3L1134.1 722.8L1136.7 724.3L1139.3 725.8L1141.9 727.3L1144.5 728.8L1147.1 730.3L1149.7 731.8L1152.3 733.3L1154.9 734.8L1157.4 736.3L1160.0 737.8L1162.6 739.3L1165.2 740.8L1167.8 742.3L1170.4 743.9L1173.0 745.4L1175.6 746.9L1178.2 748.4L1180.8 749.9L1183.3 751.4L1185.9 752.9L1188.5 754.5L1191.1 756.0L1193.7 757.5L1196.3 759.0L1198.8 760.6L1201.4 762.1L1204.0 763.6L1206.6 765.1L1209.2 766.7L1211.7 768.2L1214.3 769.7L1216.9 771.3L1219.5 772.8L1222.0 774.3L1224.6 775.9L1227.2 777.4L1229.7 779.0L1232.3 780.5L1234.9 782.1L1237.4 783.6L1240.0 785.2L1242.6 786.7L1245.1 788.3L1247.7 789.8L1250.3 791.4L1252.8 792.9L1255.4 794.5L1257.9 796.1L1260.5 797.6L1263.0 799.2L1265.6 800.8L1268.1 802.3L1270.7 803.9L1273.2 805.5L1275.8 807.1L1278.3 808.6L1280.9 810.2L1283.4 811.8L1286.0 813.4L1288.5 815.0L1291.0 816.6L1293.6 818.2L1296.1 819.8L1298.6 821.4L1301.2 823.0L1303.7 824.6L1306.2 826.2L1308.8 827.8L1311.3 829.4L1313.8 831.0L1316.3 832.6L1318.8 834.2L1321.4 835.8L1323.9 837.5L1326.4 839.1L1328.9 840.7L1331.4 842.3L1333.9 844.0L1336.4 845.6L1338.9 847.3L1341.4 848.9L1343.9 850.5L1346.4 852.2L1348.9 853.8L1351.4 855.5L1353.9 857.1L1356.4 858.8L1358.9 860.5L1361.4 862.1L1363.9 863.8L1366.4 865.5L1368.8 867.2L1371.3 868.8L1373.8 870.5L1376.3 872.2L1378.7 873.9L1381.2 875.6L1383.7 877.3L1386.2 879.0L1388.6 880.7L1391.1 882.4L1393.5 884.1L1396.0 885.8L1398.4 887.5L1400.9 889.2L1403.3 890.9L1405.8 892.7L1408.2 894.4L1410.7 896.1L1413.1 897.9L1415.6 899.6L1418.0 901.3L1420.4 903.1L1422.9 904.8L1425.3 906.6L1427.7 908.4L1430.1 910.1L1432.6 911.9L1435.0 913.7L1437.4 915.4L1439.8 917.2L1442.2 919.0L1444.6 920.8L1447.0 922.6L1449.4 924.3L1451.8 926.1L1454.2 927.9L1456.6 929.8L1459.0 931.6L1461.4 933.4L1463.8 935.2L1466.1 937.0L1468.5 938.8L1470.9 940.7L1473.3 942.5L1475.6 944.3L1478.0 946.2L1480.4 948.0L1482.7 949.9L1485.1 951.7L1487.4 953.6L1489.8 955.5L1492.1 957.3L1494.5 959.2L1496.8 961.1L1499.2 963.0L1501.5 964.9L1503.8 966.8L1506.2 968.7L1508.5 970.6L1510.8 972.5L1513.1 974.4L1515.4 976.3L1517.8 978.2L1520.1 980.1L1522.4 982.1L1524.7 984.0L1527.0 985.9L1529.3 987.9L1531.6 989.8L1533.9 991.8L1536.1 993.8L1538.4 995.7L1540.7 997.7L1543.0 999.7L1545.3 1001.7L1547.5 1003.6L1549.8 1005.6L1552.0 1007.6L1554.3 1009.6L1556.5 1011.6L1558.8 1013.7L1561.0 1015.7L1563.3 1017.7L1565.5 1019.7L1567.7 1021.8L1569.9 1023.8L1572.1 1025.9L1574.3 1027.9L1576.5 1030.0L1578.7 1032.0L1580.9 1034.1L1583.1 1036.2L1585.2 1038.3L1587.4 1040.4L1589.6 1042.5L1591.7 1044.6L1593.9 1046.7L1596.0 1048.8L1598.1 1051.0L1600.2 1053.1L1602.3 1055.2L1604.4 1057.4L1606.5 1059.5L1608.6 1061.7L1610.7 1063.9L1612.7 1066.0L1614.8 1068.2L1616.8 1070.4L1618.9 1072.6L1620.9 1074.8L1622.9 1077.0L1624.9 1079.3L1626.9 1081.5L1628.9 1083.7L1630.9 1086.0L1632.9 1088.2L1634.8 1090.5L1636.7 1092.8L1638.7 1095.1L1640.6 1097.3L1642.5 1099.6L1644.4 1101.9L1646.3 1104.3L1648.2 1106.6L1650.0 1108.9L1651.9 1111.2L1653.7 1113.6L1655.5 1115.9L1657.3 1118.3L1659.1 1120.7L1660.9 1123.1L1662.7 1125.5L1664.4 1127.9L1666.2 1130.3L1667.9 1132.7L1669.6 1135.1L1671.3 1137.6L1673.0 1140.0L1674.7 1142.5L1676.3 1144.9L1678.0 1147.4L1679.6 1149.9L1681.2 1152.4L1682.8 1154.9L1684.4 1157.4L1685.9 1159.9L1687.5 1162.5L1689.0 1165.0L1690.5 1167.6L1692.0 1170.1L1693.5 1172.7L1695.0 1175.3L1696.4 1177.9L1697.9 1180.5L1699.3 1183.1L1700.7 1185.7L1702.1 1188.4L1703.4 1191.0L1704.8 1193.7L1706.1 1196.4L1707.4 1199.0L1708.7 1201.7L1710.0 1204.4L1711.3 1207.1L1712.5 1209.9L1713.8 1212.6L1715.0 1215.3L1716.2 1218.1L1717.4 1220.8L1718.5 1223.6L1719.7 1226.3L1720.8 1229.1L1721.9 1231.9L1723.0 1234.7L1724.1 1237.5L1725.2 1240.3L1726.2 1243.1L1727.3 1245.9L1728.3 1248.7L1729.3 1251.6L1730.3 1254.4L1731.3 1257.3L1732.2 1260.1L1733.2 1263.0L1734.1 1265.8L1735.0 1268.7L1735.9 1271.6L1736.8 1274.5L1737.7 1277.3L1738.6 1280.2L1739.4 1283.1L1740.2 1286.0L1741.0 1288.9L1741.8 1291.8L1742.6 1294.8L1743.4 1297.7L1744.1 1300.6L1744.9 1303.5L1745.6 1306.5L1746.3 1309.4L1747.0 1312.3L1747.7 1315.3L1748.4 1318.2L1749.0 1321.2L1749.7 1324.1L1750.3 1327.1L1750.9 1330.0L1751.5 1333.0L1752.1 1335.9L1752.7 1338.9L1753.2 1341.9L1753.8 1344.8L1754.3 1347.8L1754.8 1350.8L1755.3 1353.7L1755.8 1356.7L1756.3 1359.7L1756.8 1362.6L1757.2 1365.6L1757.7 1368.6L1758.1 1371.5L1758.5 1374.5L1758.9 1377.5L1759.3 1380.5L1759.7 1383.4L1760.1 1386.4L1760.4 1389.4L1760.7 1392.3L1761.1 1395.3L1761.4 1398.3L1761.7 1401.2L1762.0 1404.2L1762.3 1407.2L1762.5 1410.1L1762.8 1413.1L1763.0 1416.1L1763.3 1419.0" stroke="#000000" stroke-dasharray="42 23.22"/>
</g>
<g fill="#262626" font-size="65.8">
<text x="244.0" y="1502" text-anchor="middle">0</text>
<text x="496.6" y="1502" text-anchor="middle">20</text>
<text x="749.1" y="1502" text-anchor="middle">40</text>
<text x="1001.7" y="1502" text-anchor="middle">60</text>
<text x="1254.3" y="1502" text-anchor="middle">80</text>
<text x="1506.9" y="1502" text-anchor="middle">100</text>
<text x="1759.4" y="1502" text-anchor="middle">120</text>
<text x="2012.0" y="1502" text-anchor="middle">140</text>
<text x="113.8" y="1449.0">10<tspan x="178.9" dy="-31.8" font-size="50.5">-6</tspan></text>
<text x="113.8" y="1204.6">10<tspan x="178.9" dy="-31.8" font-size="50.5">-5</tspan></text>
<text x="113.8" y="960.2">10<tspan x="178.9" dy="-31.8" font-size="50.5">-4</tspan></text>
<text x="113.8" y="715.8">10<tspan x="178.9" dy="-31.8" font-size="50.5">-3</tspan></text>
<text x="113.8" y="471.4">10<tspan x="178.9" dy="-31.8" font-size="50.5">-2</tspan></text>
<text x="113.8" y="227.0">10<tspan x="178.9" dy="-31.8" font-size="50.5">-1</tspan></text>
</g>
<text x="720.70" y="1593.1" font-size="71.3" fill="#262626" textLength="795.51" lengthAdjust="spacing">Transmission distance (km)</text>
<text transform="translate(82.4,1100.28) rotate(-90)" font-size="71.3" fill="#262626" textLength="738.50" lengthAdjust="spacing">Secret key rate (bit/pulse)</text>
<text x="526.42" y="254.8" font-size="61" fill="#000" textLength="396.29" lengthAdjust="spacingAndGlyphs">Asymptotic case</text>
<text x="438.25" y="1184.9" font-size="61" fill="#ff00ff">N<tspan dx="1.6" dy="5.3" stroke="#ff00ff" stroke-width="1.1">=</tspan><tspan dx="-1" dy="-5.3">10</tspan><tspan x="582.30" dy="-28" font-size="44">8</tspan></text>
<text x="812.25" y="1148.1" font-size="61" fill="#de7d00">N<tspan dx="1.6" dy="5.3" stroke="#de7d00" stroke-width="1.1">=</tspan><tspan dx="-1" dy="-5.3">10</tspan><tspan x="957.50" dy="-28" font-size="44" letter-spacing="1.6">10</tspan></text>
<text x="1208.15" y="1327.1" font-size="61" fill="#ff0000">N<tspan dx="1.6" dy="5.3" stroke="#ff0000" stroke-width="1.1">=</tspan><tspan dx="-1" dy="-5.3">10</tspan><tspan x="1353.40" dy="-28" font-size="44" letter-spacing="1.6">12</tspan></text>
<text x="1688.15" y="874.9" font-size="61" fill="#0000ff">N<tspan dx="1.6" dy="5.3" stroke="#0000ff" stroke-width="1.1">=</tspan><tspan dx="-1" dy="-5.3">10</tspan><tspan x="1833.40" dy="-28" font-size="44" letter-spacing="1.6">14</tspan></text>
</svg>
</body></html>
